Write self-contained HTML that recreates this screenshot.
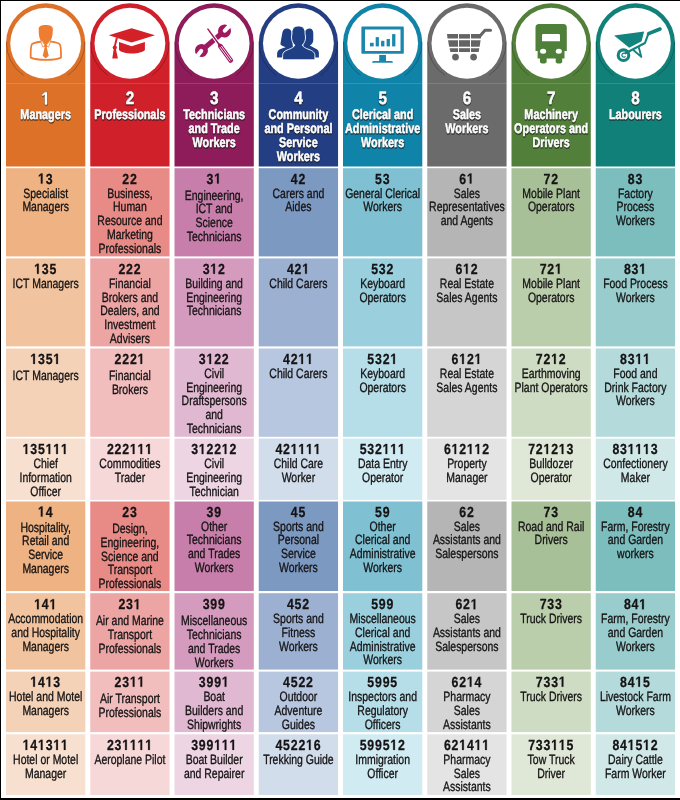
<!DOCTYPE html><html><head><meta charset="utf-8"><style>html,body{margin:0;padding:0;background:#fff;}svg{display:block;will-change:transform;}text{text-rendering:geometricPrecision;font-family:"Liberation Sans",sans-serif;text-anchor:middle;}</style></head><body>
<svg width="680" height="800" viewBox="0 0 680 800">
<rect x="0" y="0" width="680" height="800" fill="#fff"/>
<path d="M6.00,166.4 L6.00,42.95 A39.65,39.65 0 0 1 85.30,42.95 L85.30,166.4 Z" fill="#DE7128"/>
<path d="M6.42,41.58 A39.25,39.25 0 0 0 23.70,75.49" fill="none" stroke="#000" stroke-opacity="0.35" stroke-width="0.7"/>
<path d="M84.88,41.58 A39.25,39.25 0 0 1 67.60,75.49" fill="none" stroke="#000" stroke-opacity="0.35" stroke-width="0.7"/>
<circle cx="45.65" cy="43.25" r="35.4" fill="#fff"/>
<g fill="#EE7D31" stroke="#EE7D31" stroke-width="0">
<path d="M38.7,29 C38.6,26.3 41.5,25.1 45.6,25.1 C50,25.1 53.1,26.4 52.9,29.5 L52.6,34 C52.4,36.3 51.8,38.3 50.9,40.2 L49.4,41 L45.7,45.6 L42,41 L40.5,40.2 C39.6,38.3 39,36.3 38.8,34 Z"/>
<path fill="none" stroke-width="1.8" stroke-linejoin="round" d="M41.2,41.6 C37.2,42.2 33.6,42.6 32,44.2 C30.6,45.6 30.6,50 30.7,57.6 C37,60.6 54.5,60.6 61,57.6 C61.1,50 61.1,45.6 59.6,44.2 C58,42.6 54.4,42.2 50.2,41.6"/>
<path fill="#fff" stroke-width="0.75" stroke-linejoin="round" d="M40.5,40.8 L42.9,47.2 L45.1,45.3 L42,41.2 Z M50.9,40.8 L48.5,47.2 L46.3,45.3 L49.4,41.2 Z"/>
<path d="M44.6,44.8 L46.8,44.8 L47.4,46.4 L46.7,47.2 L48.7,55.8 L45.7,58.4 L42.7,55.8 L44.7,47.2 L44,46.4 Z"/>
</g>
<g transform="translate(45.85,104.70) scale(0.86,1) skewX(0.01)"><text font-size="17.8" font-weight="bold" fill="#1a1a1a" stroke="#1a1a1a" stroke-width="1.5" stroke-linejoin="round" opacity="0.62"> </text><path d="M-0.80,0.00 L-0.80,-10.17 L-3.73,-8.34 L-3.73,-10.26 L-0.66,-12.25 L1.65,-12.25 L1.65,0.00 Z" fill="#1a1a1a" stroke="#1a1a1a" stroke-width="1.5" stroke-linejoin="round" opacity="0.62"/></g>
<text transform="translate(45.85,119.70) scale(0.78,1) skewX(0.01)" font-size="13.9" font-weight="bold" fill="#1a1a1a" stroke="#1a1a1a" stroke-width="1.5" stroke-linejoin="round" opacity="0.62">Managers</text>
<g transform="translate(45.65,104.40) scale(0.86,1) skewX(0.01)"><text font-size="17.8" font-weight="bold" fill="#fff" stroke="#fff" stroke-width="0.5" stroke-linejoin="round"> </text><path d="M-0.80,0.00 L-0.80,-10.17 L-3.73,-8.34 L-3.73,-10.26 L-0.66,-12.25 L1.65,-12.25 L1.65,0.00 Z" fill="#fff" stroke="#fff" stroke-width="0.5" stroke-linejoin="round"/></g>
<text transform="translate(45.65,119.40) scale(0.78,1) skewX(0.01)" font-size="13.9" font-weight="bold" fill="#fff" stroke="#fff" stroke-width="0.5" stroke-linejoin="round">Managers</text>
<path d="M90.25,166.4 L90.25,42.95 A39.65,39.65 0 0 1 169.55,42.95 L169.55,166.4 Z" fill="#D0202A"/>
<path d="M90.67,41.58 A39.25,39.25 0 0 0 107.95,75.49" fill="none" stroke="#000" stroke-opacity="0.35" stroke-width="0.7"/>
<path d="M169.13,41.58 A39.25,39.25 0 0 1 151.85,75.49" fill="none" stroke="#000" stroke-opacity="0.35" stroke-width="0.7"/>
<circle cx="129.90" cy="43.25" r="35.4" fill="#fff"/>
<g fill="#D42027" stroke="#D42027" stroke-width="0">
<path d="M131.6,28.3 L155,35.3 L131.6,42.6 L108.8,35.3 Z"/>
<path d="M119,42 L131.6,46.2 L144.9,42 L144.9,50 C141.5,54.6 122.4,54.6 119,50 Z"/>
<path d="M115.9,37.4 L117.8,37.9 L115.7,46.4 L113.9,46.1 Z"/>
<circle cx="114.8" cy="47.6" r="2.1"/>
<path d="M113.8,48.5 L115.8,48.5 L117.9,58.6 L112.3,58.6 Z"/>
</g>
<g transform="translate(130.10,104.70) scale(0.86,1) skewX(0.01)"><text font-size="17.8" font-weight="bold" fill="#1a1a1a" stroke="#1a1a1a" stroke-width="1.5" stroke-linejoin="round" opacity="0.62">2</text></g>
<text transform="translate(130.10,119.70) scale(0.78,1) skewX(0.01)" font-size="13.9" font-weight="bold" fill="#1a1a1a" stroke="#1a1a1a" stroke-width="1.5" stroke-linejoin="round" opacity="0.62">Professionals</text>
<g transform="translate(129.90,104.40) scale(0.86,1) skewX(0.01)"><text font-size="17.8" font-weight="bold" fill="#fff" stroke="#fff" stroke-width="0.5" stroke-linejoin="round">2</text></g>
<text transform="translate(129.90,119.40) scale(0.78,1) skewX(0.01)" font-size="13.9" font-weight="bold" fill="#fff" stroke="#fff" stroke-width="0.5" stroke-linejoin="round">Professionals</text>
<path d="M174.50,166.4 L174.50,42.95 A39.65,39.65 0 0 1 253.80,42.95 L253.80,166.4 Z" fill="#8F1C5A"/>
<path d="M174.92,41.58 A39.25,39.25 0 0 0 192.20,75.49" fill="none" stroke="#000" stroke-opacity="0.35" stroke-width="0.7"/>
<path d="M253.38,41.58 A39.25,39.25 0 0 1 236.10,75.49" fill="none" stroke="#000" stroke-opacity="0.35" stroke-width="0.7"/>
<circle cx="214.15" cy="43.25" r="35.4" fill="#fff"/>
<g fill="#A0195F" stroke="#A0195F" stroke-width="0">
<g transform="translate(213,40.75) rotate(-40.3)">
 <rect x="-12" y="-2.5" width="24" height="5"/>
 <circle cx="15.1" cy="0" r="6.5"/>
 <circle cx="-15.1" cy="0" r="6.5"/>
 <g fill="#fff">
  <path transform="rotate(-6 15.1 0)" d="M23,-2.1 L15.6,-2.1 A2.1,2.1 0 0 0 15.6,2.1 L23,2.1 Z"/>
  <path transform="rotate(-12 -15.1 0)" d="M-23,-2.1 L-15.6,-2.1 A2.1,2.1 0 0 1 -15.6,2.1 L-23,2.1 Z"/>
 </g>
</g>
<g transform="translate(207.5,28.5) rotate(54)">
 <rect x="1" y="-1.7" width="18.5" height="3.4" fill="#fff"/>
 <rect x="0" y="-0.75" width="19.6" height="1.5" rx="0.75"/>
 <path d="M19,-1 L21.5,-2.4 L40,-2.4 Q41.7,-2.4 41.7,0 Q41.7,2.4 40,2.4 L21.5,2.4 L19,1 Z"/>
 <path d="M22.3,-0.95 L39.9,-0.95 M22.3,0.95 L39.9,0.95" stroke="#fff" stroke-width="0.8" fill="none"/>
</g>
</g>
<g transform="translate(214.35,104.70) scale(0.86,1) skewX(0.01)"><text font-size="17.8" font-weight="bold" fill="#1a1a1a" stroke="#1a1a1a" stroke-width="1.5" stroke-linejoin="round" opacity="0.62">3</text></g>
<text transform="translate(214.35,119.70) scale(0.78,1) skewX(0.01)" font-size="13.9" font-weight="bold" fill="#1a1a1a" stroke="#1a1a1a" stroke-width="1.5" stroke-linejoin="round" opacity="0.62">Technicians</text>
<text transform="translate(214.35,133.70) scale(0.78,1) skewX(0.01)" font-size="13.9" font-weight="bold" fill="#1a1a1a" stroke="#1a1a1a" stroke-width="1.5" stroke-linejoin="round" opacity="0.62">and Trade</text>
<text transform="translate(214.35,147.70) scale(0.78,1) skewX(0.01)" font-size="13.9" font-weight="bold" fill="#1a1a1a" stroke="#1a1a1a" stroke-width="1.5" stroke-linejoin="round" opacity="0.62">Workers</text>
<g transform="translate(214.15,104.40) scale(0.86,1) skewX(0.01)"><text font-size="17.8" font-weight="bold" fill="#fff" stroke="#fff" stroke-width="0.5" stroke-linejoin="round">3</text></g>
<text transform="translate(214.15,119.40) scale(0.78,1) skewX(0.01)" font-size="13.9" font-weight="bold" fill="#fff" stroke="#fff" stroke-width="0.5" stroke-linejoin="round">Technicians</text>
<text transform="translate(214.15,133.40) scale(0.78,1) skewX(0.01)" font-size="13.9" font-weight="bold" fill="#fff" stroke="#fff" stroke-width="0.5" stroke-linejoin="round">and Trade</text>
<text transform="translate(214.15,147.40) scale(0.78,1) skewX(0.01)" font-size="13.9" font-weight="bold" fill="#fff" stroke="#fff" stroke-width="0.5" stroke-linejoin="round">Workers</text>
<path d="M258.75,166.4 L258.75,42.95 A39.65,39.65 0 0 1 338.05,42.95 L338.05,166.4 Z" fill="#233E83"/>
<path d="M259.17,41.58 A39.25,39.25 0 0 0 276.45,75.49" fill="none" stroke="#000" stroke-opacity="0.35" stroke-width="0.7"/>
<path d="M337.63,41.58 A39.25,39.25 0 0 1 320.35,75.49" fill="none" stroke="#000" stroke-opacity="0.35" stroke-width="0.7"/>
<circle cx="298.40" cy="43.25" r="35.4" fill="#fff"/>
<g fill="#1F3F84" stroke="#1F3F84" stroke-width="0">
<path d="M291.5,31.5 C290.5,29.6 289,28.6 287,28.6 C284.5,28.6 283,30.2 282.4,32.5 L281.2,39 C280.9,41.5 280.4,43.4 280.5,44.6 C281.6,45.6 283.3,46.5 285.6,47.3 C282.5,48.2 279.5,49.2 278.3,50.6 C277.4,51.6 277.1,53 277.1,54.5 L277.1,57.6 L284,57.6 L293,48 Z"/>
<path d="M305,31.5 C306,29.6 307.5,28.6 309.5,28.6 C312,28.6 313.2,30.5 313.3,33.5 L313.3,40 C313.2,42.5 312,44.4 309.8,45.6 C311.5,46.6 314.5,47.8 316.8,49.3 C318.3,50.3 318.9,51.5 318.9,53.5 L318.9,57.6 L312,57.6 L303,48 Z"/>
<path d="M292,33.2 C291.6,28.6 294.2,26 298.5,26 C302.8,26 305.4,28.6 305,33.2 L305.5,37 C305.7,40 304.5,43 302.3,45.2 C303.1,46.9 305.5,48.3 309,49.5 C313,50.9 314.9,52.6 314.9,55.5 L314.9,59.8 L282.6,59.8 L282.6,55.5 C282.6,52.6 284.5,50.9 288.4,49.5 C291.9,48.3 294.1,46.9 294.8,45.2 C292.6,43 291.4,40 291.5,37 Z" stroke="#fff" stroke-width="0.9"/>
</g>
<g transform="translate(298.60,104.70) scale(0.86,1) skewX(0.01)"><text font-size="17.8" font-weight="bold" fill="#1a1a1a" stroke="#1a1a1a" stroke-width="1.5" stroke-linejoin="round" opacity="0.62">4</text></g>
<text transform="translate(298.60,119.70) scale(0.78,1) skewX(0.01)" font-size="13.9" font-weight="bold" fill="#1a1a1a" stroke="#1a1a1a" stroke-width="1.5" stroke-linejoin="round" opacity="0.62">Community</text>
<text transform="translate(298.60,133.70) scale(0.78,1) skewX(0.01)" font-size="13.9" font-weight="bold" fill="#1a1a1a" stroke="#1a1a1a" stroke-width="1.5" stroke-linejoin="round" opacity="0.62">and Personal</text>
<text transform="translate(298.60,147.70) scale(0.78,1) skewX(0.01)" font-size="13.9" font-weight="bold" fill="#1a1a1a" stroke="#1a1a1a" stroke-width="1.5" stroke-linejoin="round" opacity="0.62">Service</text>
<text transform="translate(298.60,161.70) scale(0.78,1) skewX(0.01)" font-size="13.9" font-weight="bold" fill="#1a1a1a" stroke="#1a1a1a" stroke-width="1.5" stroke-linejoin="round" opacity="0.62">Workers</text>
<g transform="translate(298.40,104.40) scale(0.86,1) skewX(0.01)"><text font-size="17.8" font-weight="bold" fill="#fff" stroke="#fff" stroke-width="0.5" stroke-linejoin="round">4</text></g>
<text transform="translate(298.40,119.40) scale(0.78,1) skewX(0.01)" font-size="13.9" font-weight="bold" fill="#fff" stroke="#fff" stroke-width="0.5" stroke-linejoin="round">Community</text>
<text transform="translate(298.40,133.40) scale(0.78,1) skewX(0.01)" font-size="13.9" font-weight="bold" fill="#fff" stroke="#fff" stroke-width="0.5" stroke-linejoin="round">and Personal</text>
<text transform="translate(298.40,147.40) scale(0.78,1) skewX(0.01)" font-size="13.9" font-weight="bold" fill="#fff" stroke="#fff" stroke-width="0.5" stroke-linejoin="round">Service</text>
<text transform="translate(298.40,161.40) scale(0.78,1) skewX(0.01)" font-size="13.9" font-weight="bold" fill="#fff" stroke="#fff" stroke-width="0.5" stroke-linejoin="round">Workers</text>
<path d="M343.00,166.4 L343.00,42.95 A39.65,39.65 0 0 1 422.30,42.95 L422.30,166.4 Z" fill="#0F83A8"/>
<path d="M343.42,41.58 A39.25,39.25 0 0 0 360.70,75.49" fill="none" stroke="#000" stroke-opacity="0.35" stroke-width="0.7"/>
<path d="M421.88,41.58 A39.25,39.25 0 0 1 404.60,75.49" fill="none" stroke="#000" stroke-opacity="0.35" stroke-width="0.7"/>
<circle cx="382.65" cy="43.25" r="35.4" fill="#fff"/>
<g fill="#1A87AE" stroke="#1A87AE" stroke-width="0">
<path fill-rule="evenodd" d="M362.2,26.6 L403,26.6 Q403.8,26.6 403.8,27.4 L403.8,53 Q403.8,53.8 403,53.8 L362.2,53.8 Q361.4,53.8 361.4,53 L361.4,27.4 Q361.4,26.6 362.2,26.6 Z M365,29.6 L365,51 L400.5,51 L400.5,29.6 Z"/>
<rect x="370" y="42.8" width="3.7" height="3.6"/>
<rect x="375.7" y="37.1" width="3.2" height="9.3"/>
<rect x="381.1" y="40.8" width="3.3" height="5.6"/>
<rect x="386.6" y="39" width="3.3" height="7.4"/>
<rect x="392.1" y="34.1" width="3.3" height="12.3"/>
<rect x="379.2" y="55" width="6.8" height="6.5"/>
<path d="M373.5,61 L391.5,61 Q393,61 393,62.7 L372,62.7 Q372,61 373.5,61 Z"/>
</g>
<g transform="translate(382.85,104.70) scale(0.86,1) skewX(0.01)"><text font-size="17.8" font-weight="bold" fill="#1a1a1a" stroke="#1a1a1a" stroke-width="1.5" stroke-linejoin="round" opacity="0.62">5</text></g>
<text transform="translate(382.85,119.70) scale(0.78,1) skewX(0.01)" font-size="13.9" font-weight="bold" fill="#1a1a1a" stroke="#1a1a1a" stroke-width="1.5" stroke-linejoin="round" opacity="0.62">Clerical and</text>
<text transform="translate(382.85,133.70) scale(0.78,1) skewX(0.01)" font-size="13.9" font-weight="bold" fill="#1a1a1a" stroke="#1a1a1a" stroke-width="1.5" stroke-linejoin="round" opacity="0.62">Administrative</text>
<text transform="translate(382.85,147.70) scale(0.78,1) skewX(0.01)" font-size="13.9" font-weight="bold" fill="#1a1a1a" stroke="#1a1a1a" stroke-width="1.5" stroke-linejoin="round" opacity="0.62">Workers</text>
<g transform="translate(382.65,104.40) scale(0.86,1) skewX(0.01)"><text font-size="17.8" font-weight="bold" fill="#fff" stroke="#fff" stroke-width="0.5" stroke-linejoin="round">5</text></g>
<text transform="translate(382.65,119.40) scale(0.78,1) skewX(0.01)" font-size="13.9" font-weight="bold" fill="#fff" stroke="#fff" stroke-width="0.5" stroke-linejoin="round">Clerical and</text>
<text transform="translate(382.65,133.40) scale(0.78,1) skewX(0.01)" font-size="13.9" font-weight="bold" fill="#fff" stroke="#fff" stroke-width="0.5" stroke-linejoin="round">Administrative</text>
<text transform="translate(382.65,147.40) scale(0.78,1) skewX(0.01)" font-size="13.9" font-weight="bold" fill="#fff" stroke="#fff" stroke-width="0.5" stroke-linejoin="round">Workers</text>
<path d="M427.25,166.4 L427.25,42.95 A39.65,39.65 0 0 1 506.55,42.95 L506.55,166.4 Z" fill="#6B6B6B"/>
<path d="M427.67,41.58 A39.25,39.25 0 0 0 444.95,75.49" fill="none" stroke="#000" stroke-opacity="0.35" stroke-width="0.7"/>
<path d="M506.13,41.58 A39.25,39.25 0 0 1 488.85,75.49" fill="none" stroke="#000" stroke-opacity="0.35" stroke-width="0.7"/>
<circle cx="466.90" cy="43.25" r="35.4" fill="#fff"/>
<g fill="#646464" stroke="#646464" stroke-width="0">
<path d="M447,34.1 L458,34.1 L458,38.6 L447.5,38.6 Z"/>
<path d="M459,34.1 L470,34.1 L470,38.6 L459,38.6 Z"/>
<path d="M471,34.1 L481.4,34.1 L480.8,38.6 L471,38.6 Z"/>
<path d="M448.1,40.2 L458,40.2 L458,46.7 L449.1,46.7 Z"/>
<path d="M459,40.2 L470,40.2 L470,46.7 L459,46.7 Z"/>
<path d="M471,40.2 L480.6,40.2 L479.6,46.7 L471,46.7 Z"/>
<path d="M449.6,48.2 L458,48.2 L458,52 L450.4,52 Z"/>
<path d="M459,48.2 L470,48.2 L470,52 L459,52 Z"/>
<path d="M471,48.2 L479.3,48.2 L478.6,52 L471,52 Z"/>
<path d="M479.5,36.5 L485,30.2 L490.5,30.2" fill="none" stroke-width="3" stroke-linecap="round" stroke-linejoin="round"/>
<circle cx="455.5" cy="57.1" r="3.4"/>
<circle cx="473.6" cy="57.1" r="3.4"/>
</g>
<g transform="translate(467.10,104.70) scale(0.86,1) skewX(0.01)"><text font-size="17.8" font-weight="bold" fill="#1a1a1a" stroke="#1a1a1a" stroke-width="1.5" stroke-linejoin="round" opacity="0.62">6</text></g>
<text transform="translate(467.10,119.70) scale(0.78,1) skewX(0.01)" font-size="13.9" font-weight="bold" fill="#1a1a1a" stroke="#1a1a1a" stroke-width="1.5" stroke-linejoin="round" opacity="0.62">Sales</text>
<text transform="translate(467.10,133.70) scale(0.78,1) skewX(0.01)" font-size="13.9" font-weight="bold" fill="#1a1a1a" stroke="#1a1a1a" stroke-width="1.5" stroke-linejoin="round" opacity="0.62">Workers</text>
<g transform="translate(466.90,104.40) scale(0.86,1) skewX(0.01)"><text font-size="17.8" font-weight="bold" fill="#fff" stroke="#fff" stroke-width="0.5" stroke-linejoin="round">6</text></g>
<text transform="translate(466.90,119.40) scale(0.78,1) skewX(0.01)" font-size="13.9" font-weight="bold" fill="#fff" stroke="#fff" stroke-width="0.5" stroke-linejoin="round">Sales</text>
<text transform="translate(466.90,133.40) scale(0.78,1) skewX(0.01)" font-size="13.9" font-weight="bold" fill="#fff" stroke="#fff" stroke-width="0.5" stroke-linejoin="round">Workers</text>
<path d="M511.50,166.4 L511.50,42.95 A39.65,39.65 0 0 1 590.80,42.95 L590.80,166.4 Z" fill="#52803B"/>
<path d="M511.92,41.58 A39.25,39.25 0 0 0 529.20,75.49" fill="none" stroke="#000" stroke-opacity="0.35" stroke-width="0.7"/>
<path d="M590.38,41.58 A39.25,39.25 0 0 1 573.10,75.49" fill="none" stroke="#000" stroke-opacity="0.35" stroke-width="0.7"/>
<circle cx="551.15" cy="43.25" r="35.4" fill="#fff"/>
<g fill="#4E803A" stroke="#4E803A" stroke-width="0">
<path fill-rule="evenodd" d="M539,24.1 L563.3,24.1 Q566.8,24.1 566.8,27.6 L566.8,50.9 L564.5,50.9 L564.5,58.5 L537.6,58.5 L537.6,50.9 L535.5,50.9 L535.5,27.6 Q535.5,24.1 539,24.1 Z M543.2,34.1 Q542,34.1 542,35.3 L542,41.3 L560,41.3 L560,35.3 Q560,34.1 558.8,34.1 Z M543.1,48.8 A3.1,2.5 0 1 0 543.1,53.8 A3.1,2.5 0 1 0 543.1,48.8 Z M558.8,48.8 A3.1,2.5 0 1 0 558.8,53.8 A3.1,2.5 0 1 0 558.8,48.8 Z"/>
<path d="M540,57 L546.6,57 L546.6,61.5 Q546.6,63.5 543.3,63.5 Q540,63.5 540,61.5 Z"/>
<path d="M555.7,57 L562.2,57 L562.2,61.5 Q562.2,63.5 559,63.5 Q555.7,63.5 555.7,61.5 Z"/>
</g>
<g transform="translate(551.35,104.70) scale(0.86,1) skewX(0.01)"><text font-size="17.8" font-weight="bold" fill="#1a1a1a" stroke="#1a1a1a" stroke-width="1.5" stroke-linejoin="round" opacity="0.62">7</text></g>
<text transform="translate(551.35,119.70) scale(0.78,1) skewX(0.01)" font-size="13.9" font-weight="bold" fill="#1a1a1a" stroke="#1a1a1a" stroke-width="1.5" stroke-linejoin="round" opacity="0.62">Machinery</text>
<text transform="translate(551.35,133.70) scale(0.78,1) skewX(0.01)" font-size="13.9" font-weight="bold" fill="#1a1a1a" stroke="#1a1a1a" stroke-width="1.5" stroke-linejoin="round" opacity="0.62">Operators and</text>
<text transform="translate(551.35,147.70) scale(0.78,1) skewX(0.01)" font-size="13.9" font-weight="bold" fill="#1a1a1a" stroke="#1a1a1a" stroke-width="1.5" stroke-linejoin="round" opacity="0.62">Drivers</text>
<g transform="translate(551.15,104.40) scale(0.86,1) skewX(0.01)"><text font-size="17.8" font-weight="bold" fill="#fff" stroke="#fff" stroke-width="0.5" stroke-linejoin="round">7</text></g>
<text transform="translate(551.15,119.40) scale(0.78,1) skewX(0.01)" font-size="13.9" font-weight="bold" fill="#fff" stroke="#fff" stroke-width="0.5" stroke-linejoin="round">Machinery</text>
<text transform="translate(551.15,133.40) scale(0.78,1) skewX(0.01)" font-size="13.9" font-weight="bold" fill="#fff" stroke="#fff" stroke-width="0.5" stroke-linejoin="round">Operators and</text>
<text transform="translate(551.15,147.40) scale(0.78,1) skewX(0.01)" font-size="13.9" font-weight="bold" fill="#fff" stroke="#fff" stroke-width="0.5" stroke-linejoin="round">Drivers</text>
<path d="M595.75,166.4 L595.75,42.95 A39.65,39.65 0 0 1 675.05,42.95 L675.05,166.4 Z" fill="#108079"/>
<path d="M596.17,41.58 A39.25,39.25 0 0 0 613.45,75.49" fill="none" stroke="#000" stroke-opacity="0.35" stroke-width="0.7"/>
<path d="M674.63,41.58 A39.25,39.25 0 0 1 657.35,75.49" fill="none" stroke="#000" stroke-opacity="0.35" stroke-width="0.7"/>
<circle cx="635.40" cy="43.25" r="35.4" fill="#fff"/>
<g fill="#12837E" stroke="#12837E" stroke-width="0">
<path d="M614.1,35.6 L644.1,31.5 L641.6,41.3 L629.2,47.7 Z"/>
<path d="M625,53.5 L645,43 L648.2,34.2" fill="none" stroke-width="2.1" stroke-linejoin="round"/>
<path d="M648.6,33.6 L660,29" stroke-width="3.6" stroke-linecap="round"/>
<path d="M633.3,50 L641.3,56.9 L638.8,47.2" fill="none" stroke-width="1.9" stroke-linejoin="round"/>
<circle cx="623.5" cy="55.2" r="5.3" fill="none" stroke-width="3.1"/>
<path d="M625.5,54 A2,2 0 1 0 625.5,56.4" fill="none" stroke-width="1.2"/>
</g>
<g transform="translate(635.60,104.70) scale(0.86,1) skewX(0.01)"><text font-size="17.8" font-weight="bold" fill="#1a1a1a" stroke="#1a1a1a" stroke-width="1.5" stroke-linejoin="round" opacity="0.62">8</text></g>
<text transform="translate(635.60,119.70) scale(0.78,1) skewX(0.01)" font-size="13.9" font-weight="bold" fill="#1a1a1a" stroke="#1a1a1a" stroke-width="1.5" stroke-linejoin="round" opacity="0.62">Labourers</text>
<g transform="translate(635.40,104.40) scale(0.86,1) skewX(0.01)"><text font-size="17.8" font-weight="bold" fill="#fff" stroke="#fff" stroke-width="0.5" stroke-linejoin="round">8</text></g>
<text transform="translate(635.40,119.40) scale(0.78,1) skewX(0.01)" font-size="13.9" font-weight="bold" fill="#fff" stroke="#fff" stroke-width="0.5" stroke-linejoin="round">Labourers</text>
<rect x="6" y="83" width="669" height="0.8" fill="#fff" fill-opacity="0.18"/>
<rect x="6.00" y="168.20" width="79.3" height="88.20" fill="#EEB283"/>
<g transform="translate(45.65,183.60) scale(0.845,1) skewX(0.01)"><text font-size="14.6" font-weight="bold" fill="#151314" letter-spacing="0.95" stroke="#151314" stroke-width="0.25"> 3</text><path d="M-5.66,0.00 L-5.66,-8.34 L-8.07,-6.84 L-8.07,-8.41 L-5.56,-10.04 L-3.66,-10.04 L-3.66,0.00 Z" fill="#151314" stroke="#151314" stroke-width="0.25"/></g>
<text transform="translate(45.65,197.70) scale(0.775,1) skewX(0.01)" font-size="13.5" font-weight="normal" fill="#151314" stroke="#151314" stroke-width="0.33">Specialist</text>
<text transform="translate(45.65,211.40) scale(0.775,1) skewX(0.01)" font-size="13.5" font-weight="normal" fill="#151314" stroke="#151314" stroke-width="0.33">Managers</text>
<rect x="90.25" y="168.20" width="79.3" height="88.20" fill="#E88A86"/>
<g transform="translate(129.90,183.60) scale(0.845,1) skewX(0.01)"><text font-size="14.6" font-weight="bold" fill="#151314" letter-spacing="0.95" stroke="#151314" stroke-width="0.25">22</text></g>
<text transform="translate(129.90,197.70) scale(0.775,1) skewX(0.01)" font-size="13.5" font-weight="normal" fill="#151314" stroke="#151314" stroke-width="0.33">Business,</text>
<text transform="translate(129.90,211.40) scale(0.775,1) skewX(0.01)" font-size="13.5" font-weight="normal" fill="#151314" stroke="#151314" stroke-width="0.33">Human</text>
<text transform="translate(129.90,225.10) scale(0.775,1) skewX(0.01)" font-size="13.5" font-weight="normal" fill="#151314" stroke="#151314" stroke-width="0.33">Resource and</text>
<text transform="translate(129.90,238.80) scale(0.775,1) skewX(0.01)" font-size="13.5" font-weight="normal" fill="#151314" stroke="#151314" stroke-width="0.33">Marketing</text>
<text transform="translate(129.90,252.50) scale(0.775,1) skewX(0.01)" font-size="13.5" font-weight="normal" fill="#151314" stroke="#151314" stroke-width="0.33">Professionals</text>
<rect x="174.50" y="168.20" width="79.3" height="88.20" fill="#C77EAA"/>
<g transform="translate(214.15,183.60) scale(0.845,1) skewX(0.01)"><text font-size="14.6" font-weight="bold" fill="#151314" letter-spacing="0.95" stroke="#151314" stroke-width="0.25">3 </text><path d="M3.41,0.00 L3.41,-8.34 L1.00,-6.84 L1.00,-8.41 L3.51,-10.04 L5.41,-10.04 L5.41,0.00 Z" fill="#151314" stroke="#151314" stroke-width="0.25"/></g>
<text transform="translate(214.15,199.70) scale(0.775,1) skewX(0.01)" font-size="13.5" font-weight="normal" fill="#151314" stroke="#151314" stroke-width="0.33">Engineering,</text>
<text transform="translate(214.15,213.30) scale(0.775,1) skewX(0.01)" font-size="13.5" font-weight="normal" fill="#151314" stroke="#151314" stroke-width="0.33">ICT and</text>
<text transform="translate(214.15,226.90) scale(0.775,1) skewX(0.01)" font-size="13.5" font-weight="normal" fill="#151314" stroke="#151314" stroke-width="0.33">Science</text>
<text transform="translate(214.15,240.50) scale(0.775,1) skewX(0.01)" font-size="13.5" font-weight="normal" fill="#151314" stroke="#151314" stroke-width="0.33">Technicians</text>
<rect x="258.75" y="168.20" width="79.3" height="88.20" fill="#7C99C1"/>
<g transform="translate(298.40,183.60) scale(0.845,1) skewX(0.01)"><text font-size="14.6" font-weight="bold" fill="#151314" letter-spacing="0.95" stroke="#151314" stroke-width="0.25">42</text></g>
<text transform="translate(298.40,197.70) scale(0.775,1) skewX(0.01)" font-size="13.5" font-weight="normal" fill="#151314" stroke="#151314" stroke-width="0.33">Carers and</text>
<text transform="translate(298.40,211.40) scale(0.775,1) skewX(0.01)" font-size="13.5" font-weight="normal" fill="#151314" stroke="#151314" stroke-width="0.33">Aides</text>
<rect x="343.00" y="168.20" width="79.3" height="88.20" fill="#7FC1D3"/>
<g transform="translate(382.65,183.60) scale(0.845,1) skewX(0.01)"><text font-size="14.6" font-weight="bold" fill="#151314" letter-spacing="0.95" stroke="#151314" stroke-width="0.25">53</text></g>
<text transform="translate(382.65,197.70) scale(0.775,1) skewX(0.01)" font-size="13.5" font-weight="normal" fill="#151314" stroke="#151314" stroke-width="0.33">General Clerical</text>
<text transform="translate(382.65,211.40) scale(0.775,1) skewX(0.01)" font-size="13.5" font-weight="normal" fill="#151314" stroke="#151314" stroke-width="0.33">Workers</text>
<rect x="427.25" y="168.20" width="79.3" height="88.20" fill="#B5B5B5"/>
<g transform="translate(466.90,183.60) scale(0.845,1) skewX(0.01)"><text font-size="14.6" font-weight="bold" fill="#151314" letter-spacing="0.95" stroke="#151314" stroke-width="0.25">6 </text><path d="M3.41,0.00 L3.41,-8.34 L1.00,-6.84 L1.00,-8.41 L3.51,-10.04 L5.41,-10.04 L5.41,0.00 Z" fill="#151314" stroke="#151314" stroke-width="0.25"/></g>
<text transform="translate(466.90,197.70) scale(0.775,1) skewX(0.01)" font-size="13.5" font-weight="normal" fill="#151314" stroke="#151314" stroke-width="0.33">Sales</text>
<text transform="translate(466.90,211.40) scale(0.775,1) skewX(0.01)" font-size="13.5" font-weight="normal" fill="#151314" stroke="#151314" stroke-width="0.33">Representatives</text>
<text transform="translate(466.90,225.10) scale(0.775,1) skewX(0.01)" font-size="13.5" font-weight="normal" fill="#151314" stroke="#151314" stroke-width="0.33">and Agents</text>
<rect x="511.50" y="168.20" width="79.3" height="88.20" fill="#A8C098"/>
<g transform="translate(551.15,183.60) scale(0.845,1) skewX(0.01)"><text font-size="14.6" font-weight="bold" fill="#151314" letter-spacing="0.95" stroke="#151314" stroke-width="0.25">72</text></g>
<text transform="translate(551.15,197.70) scale(0.775,1) skewX(0.01)" font-size="13.5" font-weight="normal" fill="#151314" stroke="#151314" stroke-width="0.33">Mobile Plant</text>
<text transform="translate(551.15,211.40) scale(0.775,1) skewX(0.01)" font-size="13.5" font-weight="normal" fill="#151314" stroke="#151314" stroke-width="0.33">Operators</text>
<rect x="595.75" y="168.20" width="79.3" height="88.20" fill="#7CBEBE"/>
<g transform="translate(635.40,183.60) scale(0.845,1) skewX(0.01)"><text font-size="14.6" font-weight="bold" fill="#151314" letter-spacing="0.95" stroke="#151314" stroke-width="0.25">83</text></g>
<text transform="translate(635.40,197.70) scale(0.775,1) skewX(0.01)" font-size="13.5" font-weight="normal" fill="#151314" stroke="#151314" stroke-width="0.33">Factory</text>
<text transform="translate(635.40,211.40) scale(0.775,1) skewX(0.01)" font-size="13.5" font-weight="normal" fill="#151314" stroke="#151314" stroke-width="0.33">Process</text>
<text transform="translate(635.40,225.10) scale(0.775,1) skewX(0.01)" font-size="13.5" font-weight="normal" fill="#151314" stroke="#151314" stroke-width="0.33">Workers</text>
<rect x="6.00" y="258.40" width="79.3" height="88.00" fill="#F1C49F"/>
<g transform="translate(45.65,273.80) scale(0.845,1) skewX(0.01)"><text font-size="14.6" font-weight="bold" fill="#151314" letter-spacing="0.95" stroke="#151314" stroke-width="0.25"> 35</text><path d="M-10.20,0.00 L-10.20,-8.34 L-12.61,-6.84 L-12.61,-8.41 L-10.09,-10.04 L-8.19,-10.04 L-8.19,0.00 Z" fill="#151314" stroke="#151314" stroke-width="0.25"/></g>
<text transform="translate(45.65,287.90) scale(0.775,1) skewX(0.01)" font-size="13.5" font-weight="normal" fill="#151314" stroke="#151314" stroke-width="0.33">ICT Managers</text>
<rect x="90.25" y="258.40" width="79.3" height="88.00" fill="#EDA5A4"/>
<g transform="translate(129.90,273.80) scale(0.845,1) skewX(0.01)"><text font-size="14.6" font-weight="bold" fill="#151314" letter-spacing="0.95" stroke="#151314" stroke-width="0.25">222</text></g>
<text transform="translate(129.90,287.90) scale(0.775,1) skewX(0.01)" font-size="13.5" font-weight="normal" fill="#151314" stroke="#151314" stroke-width="0.33">Financial</text>
<text transform="translate(129.90,301.60) scale(0.775,1) skewX(0.01)" font-size="13.5" font-weight="normal" fill="#151314" stroke="#151314" stroke-width="0.33">Brokers and</text>
<text transform="translate(129.90,315.30) scale(0.775,1) skewX(0.01)" font-size="13.5" font-weight="normal" fill="#151314" stroke="#151314" stroke-width="0.33">Dealers, and</text>
<text transform="translate(129.90,329.00) scale(0.775,1) skewX(0.01)" font-size="13.5" font-weight="normal" fill="#151314" stroke="#151314" stroke-width="0.33">Investment</text>
<text transform="translate(129.90,342.70) scale(0.775,1) skewX(0.01)" font-size="13.5" font-weight="normal" fill="#151314" stroke="#151314" stroke-width="0.33">Advisers</text>
<rect x="174.50" y="258.40" width="79.3" height="88.00" fill="#D59BBE"/>
<g transform="translate(214.15,273.80) scale(0.845,1) skewX(0.01)"><text font-size="14.6" font-weight="bold" fill="#151314" letter-spacing="0.95" stroke="#151314" stroke-width="0.25">3 2</text><path d="M-1.13,0.00 L-1.13,-8.34 L-3.54,-6.84 L-3.54,-8.41 L-1.02,-10.04 L0.88,-10.04 L0.88,0.00 Z" fill="#151314" stroke="#151314" stroke-width="0.25"/></g>
<text transform="translate(214.15,287.90) scale(0.775,1) skewX(0.01)" font-size="13.5" font-weight="normal" fill="#151314" stroke="#151314" stroke-width="0.33">Building and</text>
<text transform="translate(214.15,301.60) scale(0.775,1) skewX(0.01)" font-size="13.5" font-weight="normal" fill="#151314" stroke="#151314" stroke-width="0.33">Engineering</text>
<text transform="translate(214.15,315.30) scale(0.775,1) skewX(0.01)" font-size="13.5" font-weight="normal" fill="#151314" stroke="#151314" stroke-width="0.33">Technicians</text>
<rect x="258.75" y="258.40" width="79.3" height="88.00" fill="#9CB1D1"/>
<g transform="translate(298.40,273.80) scale(0.845,1) skewX(0.01)"><text font-size="14.6" font-weight="bold" fill="#151314" letter-spacing="0.95" stroke="#151314" stroke-width="0.25">42 </text><path d="M7.94,0.00 L7.94,-8.34 L5.53,-6.84 L5.53,-8.41 L8.05,-10.04 L9.95,-10.04 L9.95,0.00 Z" fill="#151314" stroke="#151314" stroke-width="0.25"/></g>
<text transform="translate(298.40,287.90) scale(0.775,1) skewX(0.01)" font-size="13.5" font-weight="normal" fill="#151314" stroke="#151314" stroke-width="0.33">Child Carers</text>
<rect x="343.00" y="258.40" width="79.3" height="88.00" fill="#9AD0DE"/>
<g transform="translate(382.65,273.80) scale(0.845,1) skewX(0.01)"><text font-size="14.6" font-weight="bold" fill="#151314" letter-spacing="0.95" stroke="#151314" stroke-width="0.25">532</text></g>
<text transform="translate(382.65,287.90) scale(0.775,1) skewX(0.01)" font-size="13.5" font-weight="normal" fill="#151314" stroke="#151314" stroke-width="0.33">Keyboard</text>
<text transform="translate(382.65,301.60) scale(0.775,1) skewX(0.01)" font-size="13.5" font-weight="normal" fill="#151314" stroke="#151314" stroke-width="0.33">Operators</text>
<rect x="427.25" y="258.40" width="79.3" height="88.00" fill="#C6C6C6"/>
<g transform="translate(466.90,273.80) scale(0.845,1) skewX(0.01)"><text font-size="14.6" font-weight="bold" fill="#151314" letter-spacing="0.95" stroke="#151314" stroke-width="0.25">6 2</text><path d="M-1.13,0.00 L-1.13,-8.34 L-3.54,-6.84 L-3.54,-8.41 L-1.02,-10.04 L0.88,-10.04 L0.88,0.00 Z" fill="#151314" stroke="#151314" stroke-width="0.25"/></g>
<text transform="translate(466.90,287.90) scale(0.775,1) skewX(0.01)" font-size="13.5" font-weight="normal" fill="#151314" stroke="#151314" stroke-width="0.33">Real Estate</text>
<text transform="translate(466.90,301.60) scale(0.775,1) skewX(0.01)" font-size="13.5" font-weight="normal" fill="#151314" stroke="#151314" stroke-width="0.33">Sales Agents</text>
<rect x="511.50" y="258.40" width="79.3" height="88.00" fill="#BBCEAC"/>
<g transform="translate(551.15,273.80) scale(0.845,1) skewX(0.01)"><text font-size="14.6" font-weight="bold" fill="#151314" letter-spacing="0.95" stroke="#151314" stroke-width="0.25">72 </text><path d="M7.94,0.00 L7.94,-8.34 L5.53,-6.84 L5.53,-8.41 L8.05,-10.04 L9.95,-10.04 L9.95,0.00 Z" fill="#151314" stroke="#151314" stroke-width="0.25"/></g>
<text transform="translate(551.15,287.90) scale(0.775,1) skewX(0.01)" font-size="13.5" font-weight="normal" fill="#151314" stroke="#151314" stroke-width="0.33">Mobile Plant</text>
<text transform="translate(551.15,301.60) scale(0.775,1) skewX(0.01)" font-size="13.5" font-weight="normal" fill="#151314" stroke="#151314" stroke-width="0.33">Operators</text>
<rect x="595.75" y="258.40" width="79.3" height="88.00" fill="#99CCCC"/>
<g transform="translate(635.40,273.80) scale(0.845,1) skewX(0.01)"><text font-size="14.6" font-weight="bold" fill="#151314" letter-spacing="0.95" stroke="#151314" stroke-width="0.25">83 </text><path d="M7.94,0.00 L7.94,-8.34 L5.53,-6.84 L5.53,-8.41 L8.05,-10.04 L9.95,-10.04 L9.95,0.00 Z" fill="#151314" stroke="#151314" stroke-width="0.25"/></g>
<text transform="translate(635.40,287.90) scale(0.775,1) skewX(0.01)" font-size="13.5" font-weight="normal" fill="#151314" stroke="#151314" stroke-width="0.33">Food Process</text>
<text transform="translate(635.40,301.60) scale(0.775,1) skewX(0.01)" font-size="13.5" font-weight="normal" fill="#151314" stroke="#151314" stroke-width="0.33">Workers</text>
<rect x="6.00" y="348.50" width="79.3" height="88.30" fill="#F3D2B8"/>
<g transform="translate(45.65,363.90) scale(0.845,1) skewX(0.01)"><text font-size="14.6" font-weight="bold" fill="#151314" letter-spacing="0.95" stroke="#151314" stroke-width="0.25"> 35 </text><path d="M-14.73,0.00 L-14.73,-8.34 L-17.14,-6.84 L-17.14,-8.41 L-14.63,-10.04 L-12.73,-10.04 L-12.73,0.00 Z" fill="#151314" stroke="#151314" stroke-width="0.25"/><path d="M12.48,0.00 L12.48,-8.34 L10.07,-6.84 L10.07,-8.41 L12.58,-10.04 L14.48,-10.04 L14.48,0.00 Z" fill="#151314" stroke="#151314" stroke-width="0.25"/></g>
<text transform="translate(45.65,379.80) scale(0.775,1) skewX(0.01)" font-size="13.5" font-weight="normal" fill="#151314" stroke="#151314" stroke-width="0.33">ICT Managers</text>
<rect x="90.25" y="348.50" width="79.3" height="88.30" fill="#F2BDBD"/>
<g transform="translate(129.90,363.90) scale(0.845,1) skewX(0.01)"><text font-size="14.6" font-weight="bold" fill="#151314" letter-spacing="0.95" stroke="#151314" stroke-width="0.25">222 </text><path d="M12.48,0.00 L12.48,-8.34 L10.07,-6.84 L10.07,-8.41 L12.58,-10.04 L14.48,-10.04 L14.48,0.00 Z" fill="#151314" stroke="#151314" stroke-width="0.25"/></g>
<text transform="translate(129.90,379.80) scale(0.775,1) skewX(0.01)" font-size="13.5" font-weight="normal" fill="#151314" stroke="#151314" stroke-width="0.33">Financial</text>
<text transform="translate(129.90,393.70) scale(0.775,1) skewX(0.01)" font-size="13.5" font-weight="normal" fill="#151314" stroke="#151314" stroke-width="0.33">Brokers</text>
<rect x="174.50" y="348.50" width="79.3" height="88.30" fill="#E1B8D1"/>
<g transform="translate(214.15,363.90) scale(0.845,1) skewX(0.01)"><text font-size="14.6" font-weight="bold" fill="#151314" letter-spacing="0.95" stroke="#151314" stroke-width="0.25">3 22</text><path d="M-5.66,0.00 L-5.66,-8.34 L-8.07,-6.84 L-8.07,-8.41 L-5.56,-10.04 L-3.66,-10.04 L-3.66,0.00 Z" fill="#151314" stroke="#151314" stroke-width="0.25"/></g>
<text transform="translate(214.15,378.30) scale(0.775,1) skewX(0.01)" font-size="13.5" font-weight="normal" fill="#151314" stroke="#151314" stroke-width="0.33">Civil</text>
<text transform="translate(214.15,391.85) scale(0.775,1) skewX(0.01)" font-size="13.5" font-weight="normal" fill="#151314" stroke="#151314" stroke-width="0.33">Engineering</text>
<text transform="translate(214.15,405.40) scale(0.775,1) skewX(0.01)" font-size="13.5" font-weight="normal" fill="#151314" stroke="#151314" stroke-width="0.33">Draftspersons</text>
<text transform="translate(214.15,418.95) scale(0.775,1) skewX(0.01)" font-size="13.5" font-weight="normal" fill="#151314" stroke="#151314" stroke-width="0.33">and</text>
<text transform="translate(214.15,432.50) scale(0.775,1) skewX(0.01)" font-size="13.5" font-weight="normal" fill="#151314" stroke="#151314" stroke-width="0.33">Technicians</text>
<rect x="258.75" y="348.50" width="79.3" height="88.30" fill="#B7C7DF"/>
<g transform="translate(298.40,363.90) scale(0.845,1) skewX(0.01)"><text font-size="14.6" font-weight="bold" fill="#151314" letter-spacing="0.95" stroke="#151314" stroke-width="0.25">42  </text><path d="M3.41,0.00 L3.41,-8.34 L1.00,-6.84 L1.00,-8.41 L3.51,-10.04 L5.41,-10.04 L5.41,0.00 Z" fill="#151314" stroke="#151314" stroke-width="0.25"/><path d="M12.48,0.00 L12.48,-8.34 L10.07,-6.84 L10.07,-8.41 L12.58,-10.04 L14.48,-10.04 L14.48,0.00 Z" fill="#151314" stroke="#151314" stroke-width="0.25"/></g>
<text transform="translate(298.40,378.00) scale(0.775,1) skewX(0.01)" font-size="13.5" font-weight="normal" fill="#151314" stroke="#151314" stroke-width="0.33">Child Carers</text>
<rect x="343.00" y="348.50" width="79.3" height="88.30" fill="#B6DEE9"/>
<g transform="translate(382.65,363.90) scale(0.845,1) skewX(0.01)"><text font-size="14.6" font-weight="bold" fill="#151314" letter-spacing="0.95" stroke="#151314" stroke-width="0.25">532 </text><path d="M12.48,0.00 L12.48,-8.34 L10.07,-6.84 L10.07,-8.41 L12.58,-10.04 L14.48,-10.04 L14.48,0.00 Z" fill="#151314" stroke="#151314" stroke-width="0.25"/></g>
<text transform="translate(382.65,378.00) scale(0.775,1) skewX(0.01)" font-size="13.5" font-weight="normal" fill="#151314" stroke="#151314" stroke-width="0.33">Keyboard</text>
<text transform="translate(382.65,391.70) scale(0.775,1) skewX(0.01)" font-size="13.5" font-weight="normal" fill="#151314" stroke="#151314" stroke-width="0.33">Operators</text>
<rect x="427.25" y="348.50" width="79.3" height="88.30" fill="#D5D5D5"/>
<g transform="translate(466.90,363.90) scale(0.845,1) skewX(0.01)"><text font-size="14.6" font-weight="bold" fill="#151314" letter-spacing="0.95" stroke="#151314" stroke-width="0.25">6 2 </text><path d="M-5.66,0.00 L-5.66,-8.34 L-8.07,-6.84 L-8.07,-8.41 L-5.56,-10.04 L-3.66,-10.04 L-3.66,0.00 Z" fill="#151314" stroke="#151314" stroke-width="0.25"/><path d="M12.48,0.00 L12.48,-8.34 L10.07,-6.84 L10.07,-8.41 L12.58,-10.04 L14.48,-10.04 L14.48,0.00 Z" fill="#151314" stroke="#151314" stroke-width="0.25"/></g>
<text transform="translate(466.90,378.00) scale(0.775,1) skewX(0.01)" font-size="13.5" font-weight="normal" fill="#151314" stroke="#151314" stroke-width="0.33">Real Estate</text>
<text transform="translate(466.90,391.70) scale(0.775,1) skewX(0.01)" font-size="13.5" font-weight="normal" fill="#151314" stroke="#151314" stroke-width="0.33">Sales Agents</text>
<rect x="511.50" y="348.50" width="79.3" height="88.30" fill="#CDDCC2"/>
<g transform="translate(551.15,363.90) scale(0.845,1) skewX(0.01)"><text font-size="14.6" font-weight="bold" fill="#151314" letter-spacing="0.95" stroke="#151314" stroke-width="0.25">72 2</text><path d="M3.41,0.00 L3.41,-8.34 L1.00,-6.84 L1.00,-8.41 L3.51,-10.04 L5.41,-10.04 L5.41,0.00 Z" fill="#151314" stroke="#151314" stroke-width="0.25"/></g>
<text transform="translate(551.15,378.00) scale(0.775,1) skewX(0.01)" font-size="13.5" font-weight="normal" fill="#151314" stroke="#151314" stroke-width="0.33">Earthmoving</text>
<text transform="translate(551.15,391.70) scale(0.775,1) skewX(0.01)" font-size="13.5" font-weight="normal" fill="#151314" stroke="#151314" stroke-width="0.33">Plant Operators</text>
<rect x="595.75" y="348.50" width="79.3" height="88.30" fill="#B4DADB"/>
<g transform="translate(635.40,363.90) scale(0.845,1) skewX(0.01)"><text font-size="14.6" font-weight="bold" fill="#151314" letter-spacing="0.95" stroke="#151314" stroke-width="0.25">83  </text><path d="M3.41,0.00 L3.41,-8.34 L1.00,-6.84 L1.00,-8.41 L3.51,-10.04 L5.41,-10.04 L5.41,0.00 Z" fill="#151314" stroke="#151314" stroke-width="0.25"/><path d="M12.48,0.00 L12.48,-8.34 L10.07,-6.84 L10.07,-8.41 L12.58,-10.04 L14.48,-10.04 L14.48,0.00 Z" fill="#151314" stroke="#151314" stroke-width="0.25"/></g>
<text transform="translate(635.40,378.00) scale(0.775,1) skewX(0.01)" font-size="13.5" font-weight="normal" fill="#151314" stroke="#151314" stroke-width="0.33">Food and</text>
<text transform="translate(635.40,391.70) scale(0.775,1) skewX(0.01)" font-size="13.5" font-weight="normal" fill="#151314" stroke="#151314" stroke-width="0.33">Drink Factory</text>
<text transform="translate(635.40,405.40) scale(0.775,1) skewX(0.01)" font-size="13.5" font-weight="normal" fill="#151314" stroke="#151314" stroke-width="0.33">Workers</text>
<rect x="6.00" y="438.60" width="79.3" height="61.30" fill="#F7E0CF"/>
<g transform="translate(45.65,454.00) scale(0.845,1) skewX(0.01)"><text font-size="14.6" font-weight="bold" fill="#151314" letter-spacing="0.95" stroke="#151314" stroke-width="0.25"> 35   </text><path d="M-23.80,0.00 L-23.80,-8.34 L-26.21,-6.84 L-26.21,-8.41 L-23.69,-10.04 L-21.80,-10.04 L-21.80,0.00 Z" fill="#151314" stroke="#151314" stroke-width="0.25"/><path d="M3.41,0.00 L3.41,-8.34 L1.00,-6.84 L1.00,-8.41 L3.51,-10.04 L5.41,-10.04 L5.41,0.00 Z" fill="#151314" stroke="#151314" stroke-width="0.25"/><path d="M12.48,0.00 L12.48,-8.34 L10.07,-6.84 L10.07,-8.41 L12.58,-10.04 L14.48,-10.04 L14.48,0.00 Z" fill="#151314" stroke="#151314" stroke-width="0.25"/><path d="M21.55,0.00 L21.55,-8.34 L19.14,-6.84 L19.14,-8.41 L21.65,-10.04 L23.55,-10.04 L23.55,0.00 Z" fill="#151314" stroke="#151314" stroke-width="0.25"/></g>
<text transform="translate(45.65,468.10) scale(0.775,1) skewX(0.01)" font-size="13.5" font-weight="normal" fill="#151314" stroke="#151314" stroke-width="0.33">Chief</text>
<text transform="translate(45.65,481.80) scale(0.775,1) skewX(0.01)" font-size="13.5" font-weight="normal" fill="#151314" stroke="#151314" stroke-width="0.33">Information</text>
<text transform="translate(45.65,495.50) scale(0.775,1) skewX(0.01)" font-size="13.5" font-weight="normal" fill="#151314" stroke="#151314" stroke-width="0.33">Officer</text>
<rect x="90.25" y="438.60" width="79.3" height="61.30" fill="#F7D8D8"/>
<g transform="translate(129.90,454.00) scale(0.845,1) skewX(0.01)"><text font-size="14.6" font-weight="bold" fill="#151314" letter-spacing="0.95" stroke="#151314" stroke-width="0.25">222   </text><path d="M3.41,0.00 L3.41,-8.34 L1.00,-6.84 L1.00,-8.41 L3.51,-10.04 L5.41,-10.04 L5.41,0.00 Z" fill="#151314" stroke="#151314" stroke-width="0.25"/><path d="M12.48,0.00 L12.48,-8.34 L10.07,-6.84 L10.07,-8.41 L12.58,-10.04 L14.48,-10.04 L14.48,0.00 Z" fill="#151314" stroke="#151314" stroke-width="0.25"/><path d="M21.55,0.00 L21.55,-8.34 L19.14,-6.84 L19.14,-8.41 L21.65,-10.04 L23.55,-10.04 L23.55,0.00 Z" fill="#151314" stroke="#151314" stroke-width="0.25"/></g>
<text transform="translate(129.90,468.10) scale(0.775,1) skewX(0.01)" font-size="13.5" font-weight="normal" fill="#151314" stroke="#151314" stroke-width="0.33">Commodities</text>
<text transform="translate(129.90,481.80) scale(0.775,1) skewX(0.01)" font-size="13.5" font-weight="normal" fill="#151314" stroke="#151314" stroke-width="0.33">Trader</text>
<rect x="174.50" y="438.60" width="79.3" height="61.30" fill="#EDD5E3"/>
<g transform="translate(214.15,454.00) scale(0.845,1) skewX(0.01)"><text font-size="14.6" font-weight="bold" fill="#151314" letter-spacing="0.95" stroke="#151314" stroke-width="0.25">3 22 2</text><path d="M-14.73,0.00 L-14.73,-8.34 L-17.14,-6.84 L-17.14,-8.41 L-14.63,-10.04 L-12.73,-10.04 L-12.73,0.00 Z" fill="#151314" stroke="#151314" stroke-width="0.25"/><path d="M12.48,0.00 L12.48,-8.34 L10.07,-6.84 L10.07,-8.41 L12.58,-10.04 L14.48,-10.04 L14.48,0.00 Z" fill="#151314" stroke="#151314" stroke-width="0.25"/></g>
<text transform="translate(214.15,468.10) scale(0.775,1) skewX(0.01)" font-size="13.5" font-weight="normal" fill="#151314" stroke="#151314" stroke-width="0.33">Civil</text>
<text transform="translate(214.15,481.80) scale(0.775,1) skewX(0.01)" font-size="13.5" font-weight="normal" fill="#151314" stroke="#151314" stroke-width="0.33">Engineering</text>
<text transform="translate(214.15,495.50) scale(0.775,1) skewX(0.01)" font-size="13.5" font-weight="normal" fill="#151314" stroke="#151314" stroke-width="0.33">Technician</text>
<rect x="258.75" y="438.60" width="79.3" height="61.30" fill="#D2DDEC"/>
<g transform="translate(298.40,454.00) scale(0.845,1) skewX(0.01)"><text font-size="14.6" font-weight="bold" fill="#151314" letter-spacing="0.95" stroke="#151314" stroke-width="0.25">42    </text><path d="M-5.66,0.00 L-5.66,-8.34 L-8.07,-6.84 L-8.07,-8.41 L-5.56,-10.04 L-3.66,-10.04 L-3.66,0.00 Z" fill="#151314" stroke="#151314" stroke-width="0.25"/><path d="M3.41,0.00 L3.41,-8.34 L1.00,-6.84 L1.00,-8.41 L3.51,-10.04 L5.41,-10.04 L5.41,0.00 Z" fill="#151314" stroke="#151314" stroke-width="0.25"/><path d="M12.48,0.00 L12.48,-8.34 L10.07,-6.84 L10.07,-8.41 L12.58,-10.04 L14.48,-10.04 L14.48,0.00 Z" fill="#151314" stroke="#151314" stroke-width="0.25"/><path d="M21.55,0.00 L21.55,-8.34 L19.14,-6.84 L19.14,-8.41 L21.65,-10.04 L23.55,-10.04 L23.55,0.00 Z" fill="#151314" stroke="#151314" stroke-width="0.25"/></g>
<text transform="translate(298.40,468.10) scale(0.775,1) skewX(0.01)" font-size="13.5" font-weight="normal" fill="#151314" stroke="#151314" stroke-width="0.33">Child Care</text>
<text transform="translate(298.40,481.80) scale(0.775,1) skewX(0.01)" font-size="13.5" font-weight="normal" fill="#151314" stroke="#151314" stroke-width="0.33">Worker</text>
<rect x="343.00" y="438.60" width="79.3" height="61.30" fill="#D1EBF2"/>
<g transform="translate(382.65,454.00) scale(0.845,1) skewX(0.01)"><text font-size="14.6" font-weight="bold" fill="#151314" letter-spacing="0.95" stroke="#151314" stroke-width="0.25">532   </text><path d="M3.41,0.00 L3.41,-8.34 L1.00,-6.84 L1.00,-8.41 L3.51,-10.04 L5.41,-10.04 L5.41,0.00 Z" fill="#151314" stroke="#151314" stroke-width="0.25"/><path d="M12.48,0.00 L12.48,-8.34 L10.07,-6.84 L10.07,-8.41 L12.58,-10.04 L14.48,-10.04 L14.48,0.00 Z" fill="#151314" stroke="#151314" stroke-width="0.25"/><path d="M21.55,0.00 L21.55,-8.34 L19.14,-6.84 L19.14,-8.41 L21.65,-10.04 L23.55,-10.04 L23.55,0.00 Z" fill="#151314" stroke="#151314" stroke-width="0.25"/></g>
<text transform="translate(382.65,468.10) scale(0.775,1) skewX(0.01)" font-size="13.5" font-weight="normal" fill="#151314" stroke="#151314" stroke-width="0.33">Data Entry</text>
<text transform="translate(382.65,481.80) scale(0.775,1) skewX(0.01)" font-size="13.5" font-weight="normal" fill="#151314" stroke="#151314" stroke-width="0.33">Operator</text>
<rect x="427.25" y="438.60" width="79.3" height="61.30" fill="#E4E4E4"/>
<g transform="translate(466.90,454.00) scale(0.845,1) skewX(0.01)"><text font-size="14.6" font-weight="bold" fill="#151314" letter-spacing="0.95" stroke="#151314" stroke-width="0.25">6 2  2</text><path d="M-14.73,0.00 L-14.73,-8.34 L-17.14,-6.84 L-17.14,-8.41 L-14.63,-10.04 L-12.73,-10.04 L-12.73,0.00 Z" fill="#151314" stroke="#151314" stroke-width="0.25"/><path d="M3.41,0.00 L3.41,-8.34 L1.00,-6.84 L1.00,-8.41 L3.51,-10.04 L5.41,-10.04 L5.41,0.00 Z" fill="#151314" stroke="#151314" stroke-width="0.25"/><path d="M12.48,0.00 L12.48,-8.34 L10.07,-6.84 L10.07,-8.41 L12.58,-10.04 L14.48,-10.04 L14.48,0.00 Z" fill="#151314" stroke="#151314" stroke-width="0.25"/></g>
<text transform="translate(466.90,468.10) scale(0.775,1) skewX(0.01)" font-size="13.5" font-weight="normal" fill="#151314" stroke="#151314" stroke-width="0.33">Property</text>
<text transform="translate(466.90,481.80) scale(0.775,1) skewX(0.01)" font-size="13.5" font-weight="normal" fill="#151314" stroke="#151314" stroke-width="0.33">Manager</text>
<rect x="511.50" y="438.60" width="79.3" height="61.30" fill="#DFE8D7"/>
<g transform="translate(551.15,454.00) scale(0.845,1) skewX(0.01)"><text font-size="14.6" font-weight="bold" fill="#151314" letter-spacing="0.95" stroke="#151314" stroke-width="0.25">72 2 3</text><path d="M-5.66,0.00 L-5.66,-8.34 L-8.07,-6.84 L-8.07,-8.41 L-5.56,-10.04 L-3.66,-10.04 L-3.66,0.00 Z" fill="#151314" stroke="#151314" stroke-width="0.25"/><path d="M12.48,0.00 L12.48,-8.34 L10.07,-6.84 L10.07,-8.41 L12.58,-10.04 L14.48,-10.04 L14.48,0.00 Z" fill="#151314" stroke="#151314" stroke-width="0.25"/></g>
<text transform="translate(551.15,468.10) scale(0.775,1) skewX(0.01)" font-size="13.5" font-weight="normal" fill="#151314" stroke="#151314" stroke-width="0.33">Bulldozer</text>
<text transform="translate(551.15,481.80) scale(0.775,1) skewX(0.01)" font-size="13.5" font-weight="normal" fill="#151314" stroke="#151314" stroke-width="0.33">Operator</text>
<rect x="595.75" y="438.60" width="79.3" height="61.30" fill="#D0E8E8"/>
<g transform="translate(635.40,454.00) scale(0.845,1) skewX(0.01)"><text font-size="14.6" font-weight="bold" fill="#151314" letter-spacing="0.95" stroke="#151314" stroke-width="0.25">83   3</text><path d="M-5.66,0.00 L-5.66,-8.34 L-8.07,-6.84 L-8.07,-8.41 L-5.56,-10.04 L-3.66,-10.04 L-3.66,0.00 Z" fill="#151314" stroke="#151314" stroke-width="0.25"/><path d="M3.41,0.00 L3.41,-8.34 L1.00,-6.84 L1.00,-8.41 L3.51,-10.04 L5.41,-10.04 L5.41,0.00 Z" fill="#151314" stroke="#151314" stroke-width="0.25"/><path d="M12.48,0.00 L12.48,-8.34 L10.07,-6.84 L10.07,-8.41 L12.58,-10.04 L14.48,-10.04 L14.48,0.00 Z" fill="#151314" stroke="#151314" stroke-width="0.25"/></g>
<text transform="translate(635.40,468.10) scale(0.775,1) skewX(0.01)" font-size="13.5" font-weight="normal" fill="#151314" stroke="#151314" stroke-width="0.33">Confectionery</text>
<text transform="translate(635.40,481.80) scale(0.775,1) skewX(0.01)" font-size="13.5" font-weight="normal" fill="#151314" stroke="#151314" stroke-width="0.33">Maker</text>
<rect x="6.00" y="501.50" width="79.3" height="89.50" fill="#EEB283"/>
<g transform="translate(45.65,516.60) scale(0.845,1) skewX(0.01)"><text font-size="14.6" font-weight="bold" fill="#151314" letter-spacing="0.95" stroke="#151314" stroke-width="0.25"> 4</text><path d="M-5.66,0.00 L-5.66,-8.34 L-8.07,-6.84 L-8.07,-8.41 L-5.56,-10.04 L-3.66,-10.04 L-3.66,0.00 Z" fill="#151314" stroke="#151314" stroke-width="0.25"/></g>
<text transform="translate(45.65,531.60) scale(0.775,1) skewX(0.01)" font-size="13.5" font-weight="normal" fill="#151314" stroke="#151314" stroke-width="0.33">Hospitality,</text>
<text transform="translate(45.65,545.30) scale(0.775,1) skewX(0.01)" font-size="13.5" font-weight="normal" fill="#151314" stroke="#151314" stroke-width="0.33">Retail and</text>
<text transform="translate(45.65,559.00) scale(0.775,1) skewX(0.01)" font-size="13.5" font-weight="normal" fill="#151314" stroke="#151314" stroke-width="0.33">Service</text>
<text transform="translate(45.65,572.70) scale(0.775,1) skewX(0.01)" font-size="13.5" font-weight="normal" fill="#151314" stroke="#151314" stroke-width="0.33">Managers</text>
<rect x="90.25" y="501.50" width="79.3" height="89.50" fill="#E88A86"/>
<g transform="translate(129.90,516.60) scale(0.845,1) skewX(0.01)"><text font-size="14.6" font-weight="bold" fill="#151314" letter-spacing="0.95" stroke="#151314" stroke-width="0.25">23</text></g>
<text transform="translate(129.90,533.30) scale(0.775,1) skewX(0.01)" font-size="13.5" font-weight="normal" fill="#151314" stroke="#151314" stroke-width="0.33">Design,</text>
<text transform="translate(129.90,546.90) scale(0.775,1) skewX(0.01)" font-size="13.5" font-weight="normal" fill="#151314" stroke="#151314" stroke-width="0.33">Engineering,</text>
<text transform="translate(129.90,560.50) scale(0.775,1) skewX(0.01)" font-size="13.5" font-weight="normal" fill="#151314" stroke="#151314" stroke-width="0.33">Science and</text>
<text transform="translate(129.90,574.10) scale(0.775,1) skewX(0.01)" font-size="13.5" font-weight="normal" fill="#151314" stroke="#151314" stroke-width="0.33">Transport</text>
<text transform="translate(129.90,587.70) scale(0.775,1) skewX(0.01)" font-size="13.5" font-weight="normal" fill="#151314" stroke="#151314" stroke-width="0.33">Professionals</text>
<rect x="174.50" y="501.50" width="79.3" height="89.50" fill="#C77EAA"/>
<g transform="translate(214.15,516.60) scale(0.845,1) skewX(0.01)"><text font-size="14.6" font-weight="bold" fill="#151314" letter-spacing="0.95" stroke="#151314" stroke-width="0.25">39</text></g>
<text transform="translate(214.15,530.70) scale(0.775,1) skewX(0.01)" font-size="13.5" font-weight="normal" fill="#151314" stroke="#151314" stroke-width="0.33">Other</text>
<text transform="translate(214.15,544.40) scale(0.775,1) skewX(0.01)" font-size="13.5" font-weight="normal" fill="#151314" stroke="#151314" stroke-width="0.33">Technicians</text>
<text transform="translate(214.15,558.10) scale(0.775,1) skewX(0.01)" font-size="13.5" font-weight="normal" fill="#151314" stroke="#151314" stroke-width="0.33">and Trades</text>
<text transform="translate(214.15,571.80) scale(0.775,1) skewX(0.01)" font-size="13.5" font-weight="normal" fill="#151314" stroke="#151314" stroke-width="0.33">Workers</text>
<rect x="258.75" y="501.50" width="79.3" height="89.50" fill="#7C99C1"/>
<g transform="translate(298.40,516.60) scale(0.845,1) skewX(0.01)"><text font-size="14.6" font-weight="bold" fill="#151314" letter-spacing="0.95" stroke="#151314" stroke-width="0.25">45</text></g>
<text transform="translate(298.40,530.70) scale(0.775,1) skewX(0.01)" font-size="13.5" font-weight="normal" fill="#151314" stroke="#151314" stroke-width="0.33">Sports and</text>
<text transform="translate(298.40,544.40) scale(0.775,1) skewX(0.01)" font-size="13.5" font-weight="normal" fill="#151314" stroke="#151314" stroke-width="0.33">Personal</text>
<text transform="translate(298.40,558.10) scale(0.775,1) skewX(0.01)" font-size="13.5" font-weight="normal" fill="#151314" stroke="#151314" stroke-width="0.33">Service</text>
<text transform="translate(298.40,571.80) scale(0.775,1) skewX(0.01)" font-size="13.5" font-weight="normal" fill="#151314" stroke="#151314" stroke-width="0.33">Workers</text>
<rect x="343.00" y="501.50" width="79.3" height="89.50" fill="#7FC1D3"/>
<g transform="translate(382.65,516.60) scale(0.845,1) skewX(0.01)"><text font-size="14.6" font-weight="bold" fill="#151314" letter-spacing="0.95" stroke="#151314" stroke-width="0.25">59</text></g>
<text transform="translate(382.65,530.70) scale(0.775,1) skewX(0.01)" font-size="13.5" font-weight="normal" fill="#151314" stroke="#151314" stroke-width="0.33">Other</text>
<text transform="translate(382.65,544.40) scale(0.775,1) skewX(0.01)" font-size="13.5" font-weight="normal" fill="#151314" stroke="#151314" stroke-width="0.33">Clerical and</text>
<text transform="translate(382.65,558.10) scale(0.775,1) skewX(0.01)" font-size="13.5" font-weight="normal" fill="#151314" stroke="#151314" stroke-width="0.33">Administrative</text>
<text transform="translate(382.65,571.80) scale(0.775,1) skewX(0.01)" font-size="13.5" font-weight="normal" fill="#151314" stroke="#151314" stroke-width="0.33">Workers</text>
<rect x="427.25" y="501.50" width="79.3" height="89.50" fill="#B5B5B5"/>
<g transform="translate(466.90,516.60) scale(0.845,1) skewX(0.01)"><text font-size="14.6" font-weight="bold" fill="#151314" letter-spacing="0.95" stroke="#151314" stroke-width="0.25">62</text></g>
<text transform="translate(466.90,530.70) scale(0.775,1) skewX(0.01)" font-size="13.5" font-weight="normal" fill="#151314" stroke="#151314" stroke-width="0.33">Sales</text>
<text transform="translate(466.90,544.40) scale(0.775,1) skewX(0.01)" font-size="13.5" font-weight="normal" fill="#151314" stroke="#151314" stroke-width="0.33">Assistants and</text>
<text transform="translate(466.90,558.10) scale(0.775,1) skewX(0.01)" font-size="13.5" font-weight="normal" fill="#151314" stroke="#151314" stroke-width="0.33">Salespersons</text>
<rect x="511.50" y="501.50" width="79.3" height="89.50" fill="#A8C098"/>
<g transform="translate(551.15,516.60) scale(0.845,1) skewX(0.01)"><text font-size="14.6" font-weight="bold" fill="#151314" letter-spacing="0.95" stroke="#151314" stroke-width="0.25">73</text></g>
<text transform="translate(551.15,530.70) scale(0.775,1) skewX(0.01)" font-size="13.5" font-weight="normal" fill="#151314" stroke="#151314" stroke-width="0.33">Road and Rail</text>
<text transform="translate(551.15,544.40) scale(0.775,1) skewX(0.01)" font-size="13.5" font-weight="normal" fill="#151314" stroke="#151314" stroke-width="0.33">Drivers</text>
<rect x="595.75" y="501.50" width="79.3" height="89.50" fill="#7CBEBE"/>
<g transform="translate(635.40,516.60) scale(0.845,1) skewX(0.01)"><text font-size="14.6" font-weight="bold" fill="#151314" letter-spacing="0.95" stroke="#151314" stroke-width="0.25">84</text></g>
<text transform="translate(635.40,530.70) scale(0.775,1) skewX(0.01)" font-size="13.5" font-weight="normal" fill="#151314" stroke="#151314" stroke-width="0.33">Farm, Forestry</text>
<text transform="translate(635.40,544.40) scale(0.775,1) skewX(0.01)" font-size="13.5" font-weight="normal" fill="#151314" stroke="#151314" stroke-width="0.33">and Garden</text>
<text transform="translate(635.40,558.10) scale(0.775,1) skewX(0.01)" font-size="13.5" font-weight="normal" fill="#151314" stroke="#151314" stroke-width="0.33">workers</text>
<rect x="6.00" y="593.20" width="79.3" height="76.40" fill="#F1C49F"/>
<g transform="translate(45.65,609.20) scale(0.845,1) skewX(0.01)"><text font-size="14.6" font-weight="bold" fill="#151314" letter-spacing="0.95" stroke="#151314" stroke-width="0.25"> 4 </text><path d="M-10.20,0.00 L-10.20,-8.34 L-12.61,-6.84 L-12.61,-8.41 L-10.09,-10.04 L-8.19,-10.04 L-8.19,0.00 Z" fill="#151314" stroke="#151314" stroke-width="0.25"/><path d="M7.94,0.00 L7.94,-8.34 L5.53,-6.84 L5.53,-8.41 L8.05,-10.04 L9.95,-10.04 L9.95,0.00 Z" fill="#151314" stroke="#151314" stroke-width="0.25"/></g>
<text transform="translate(45.65,623.30) scale(0.775,1) skewX(0.01)" font-size="13.5" font-weight="normal" fill="#151314" stroke="#151314" stroke-width="0.33">Accommodation</text>
<text transform="translate(45.65,637.00) scale(0.775,1) skewX(0.01)" font-size="13.5" font-weight="normal" fill="#151314" stroke="#151314" stroke-width="0.33">and Hospitality</text>
<text transform="translate(45.65,650.70) scale(0.775,1) skewX(0.01)" font-size="13.5" font-weight="normal" fill="#151314" stroke="#151314" stroke-width="0.33">Managers</text>
<rect x="90.25" y="593.20" width="79.3" height="76.40" fill="#EDA5A4"/>
<g transform="translate(129.90,609.20) scale(0.845,1) skewX(0.01)"><text font-size="14.6" font-weight="bold" fill="#151314" letter-spacing="0.95" stroke="#151314" stroke-width="0.25">23 </text><path d="M7.94,0.00 L7.94,-8.34 L5.53,-6.84 L5.53,-8.41 L8.05,-10.04 L9.95,-10.04 L9.95,0.00 Z" fill="#151314" stroke="#151314" stroke-width="0.25"/></g>
<text transform="translate(129.90,625.10) scale(0.775,1) skewX(0.01)" font-size="13.5" font-weight="normal" fill="#151314" stroke="#151314" stroke-width="0.33">Air and Marine</text>
<text transform="translate(129.90,638.85) scale(0.775,1) skewX(0.01)" font-size="13.5" font-weight="normal" fill="#151314" stroke="#151314" stroke-width="0.33">Transport</text>
<text transform="translate(129.90,652.60) scale(0.775,1) skewX(0.01)" font-size="13.5" font-weight="normal" fill="#151314" stroke="#151314" stroke-width="0.33">Professionals</text>
<rect x="174.50" y="593.20" width="79.3" height="76.40" fill="#D59BBE"/>
<g transform="translate(214.15,609.20) scale(0.845,1) skewX(0.01)"><text font-size="14.6" font-weight="bold" fill="#151314" letter-spacing="0.95" stroke="#151314" stroke-width="0.25">399</text></g>
<text transform="translate(214.15,625.10) scale(0.775,1) skewX(0.01)" font-size="13.5" font-weight="normal" fill="#151314" stroke="#151314" stroke-width="0.33">Miscellaneous</text>
<text transform="translate(214.15,639.00) scale(0.775,1) skewX(0.01)" font-size="13.5" font-weight="normal" fill="#151314" stroke="#151314" stroke-width="0.33">Technicians</text>
<text transform="translate(214.15,652.90) scale(0.775,1) skewX(0.01)" font-size="13.5" font-weight="normal" fill="#151314" stroke="#151314" stroke-width="0.33">and Trades</text>
<text transform="translate(214.15,666.80) scale(0.775,1) skewX(0.01)" font-size="13.5" font-weight="normal" fill="#151314" stroke="#151314" stroke-width="0.33">Workers</text>
<rect x="258.75" y="593.20" width="79.3" height="76.40" fill="#9CB1D1"/>
<g transform="translate(298.40,609.20) scale(0.845,1) skewX(0.01)"><text font-size="14.6" font-weight="bold" fill="#151314" letter-spacing="0.95" stroke="#151314" stroke-width="0.25">452</text></g>
<text transform="translate(298.40,623.30) scale(0.775,1) skewX(0.01)" font-size="13.5" font-weight="normal" fill="#151314" stroke="#151314" stroke-width="0.33">Sports and</text>
<text transform="translate(298.40,637.00) scale(0.775,1) skewX(0.01)" font-size="13.5" font-weight="normal" fill="#151314" stroke="#151314" stroke-width="0.33">Fitness</text>
<text transform="translate(298.40,650.70) scale(0.775,1) skewX(0.01)" font-size="13.5" font-weight="normal" fill="#151314" stroke="#151314" stroke-width="0.33">Workers</text>
<rect x="343.00" y="593.20" width="79.3" height="76.40" fill="#9AD0DE"/>
<g transform="translate(382.65,609.20) scale(0.845,1) skewX(0.01)"><text font-size="14.6" font-weight="bold" fill="#151314" letter-spacing="0.95" stroke="#151314" stroke-width="0.25">599</text></g>
<text transform="translate(382.65,623.30) scale(0.775,1) skewX(0.01)" font-size="13.5" font-weight="normal" fill="#151314" stroke="#151314" stroke-width="0.33">Miscellaneous</text>
<text transform="translate(382.65,637.00) scale(0.775,1) skewX(0.01)" font-size="13.5" font-weight="normal" fill="#151314" stroke="#151314" stroke-width="0.33">Clerical and</text>
<text transform="translate(382.65,650.70) scale(0.775,1) skewX(0.01)" font-size="13.5" font-weight="normal" fill="#151314" stroke="#151314" stroke-width="0.33">Administrative</text>
<text transform="translate(382.65,664.40) scale(0.775,1) skewX(0.01)" font-size="13.5" font-weight="normal" fill="#151314" stroke="#151314" stroke-width="0.33">Workers</text>
<rect x="427.25" y="593.20" width="79.3" height="76.40" fill="#C6C6C6"/>
<g transform="translate(466.90,609.20) scale(0.845,1) skewX(0.01)"><text font-size="14.6" font-weight="bold" fill="#151314" letter-spacing="0.95" stroke="#151314" stroke-width="0.25">62 </text><path d="M7.94,0.00 L7.94,-8.34 L5.53,-6.84 L5.53,-8.41 L8.05,-10.04 L9.95,-10.04 L9.95,0.00 Z" fill="#151314" stroke="#151314" stroke-width="0.25"/></g>
<text transform="translate(466.90,623.30) scale(0.775,1) skewX(0.01)" font-size="13.5" font-weight="normal" fill="#151314" stroke="#151314" stroke-width="0.33">Sales</text>
<text transform="translate(466.90,637.00) scale(0.775,1) skewX(0.01)" font-size="13.5" font-weight="normal" fill="#151314" stroke="#151314" stroke-width="0.33">Assistants and</text>
<text transform="translate(466.90,650.70) scale(0.775,1) skewX(0.01)" font-size="13.5" font-weight="normal" fill="#151314" stroke="#151314" stroke-width="0.33">Salespersons</text>
<rect x="511.50" y="593.20" width="79.3" height="76.40" fill="#BBCEAC"/>
<g transform="translate(551.15,609.20) scale(0.845,1) skewX(0.01)"><text font-size="14.6" font-weight="bold" fill="#151314" letter-spacing="0.95" stroke="#151314" stroke-width="0.25">733</text></g>
<text transform="translate(551.15,623.30) scale(0.775,1) skewX(0.01)" font-size="13.5" font-weight="normal" fill="#151314" stroke="#151314" stroke-width="0.33">Truck Drivers</text>
<rect x="595.75" y="593.20" width="79.3" height="76.40" fill="#99CCCC"/>
<g transform="translate(635.40,609.20) scale(0.845,1) skewX(0.01)"><text font-size="14.6" font-weight="bold" fill="#151314" letter-spacing="0.95" stroke="#151314" stroke-width="0.25">84 </text><path d="M7.94,0.00 L7.94,-8.34 L5.53,-6.84 L5.53,-8.41 L8.05,-10.04 L9.95,-10.04 L9.95,0.00 Z" fill="#151314" stroke="#151314" stroke-width="0.25"/></g>
<text transform="translate(635.40,623.30) scale(0.775,1) skewX(0.01)" font-size="13.5" font-weight="normal" fill="#151314" stroke="#151314" stroke-width="0.33">Farm, Forestry</text>
<text transform="translate(635.40,637.00) scale(0.775,1) skewX(0.01)" font-size="13.5" font-weight="normal" fill="#151314" stroke="#151314" stroke-width="0.33">and Garden</text>
<text transform="translate(635.40,650.70) scale(0.775,1) skewX(0.01)" font-size="13.5" font-weight="normal" fill="#151314" stroke="#151314" stroke-width="0.33">Workers</text>
<rect x="6.00" y="671.60" width="79.3" height="60.50" fill="#F3D2B8"/>
<g transform="translate(45.65,686.70) scale(0.845,1) skewX(0.01)"><text font-size="14.6" font-weight="bold" fill="#151314" letter-spacing="0.95" stroke="#151314" stroke-width="0.25"> 4 3</text><path d="M-14.73,0.00 L-14.73,-8.34 L-17.14,-6.84 L-17.14,-8.41 L-14.63,-10.04 L-12.73,-10.04 L-12.73,0.00 Z" fill="#151314" stroke="#151314" stroke-width="0.25"/><path d="M3.41,0.00 L3.41,-8.34 L1.00,-6.84 L1.00,-8.41 L3.51,-10.04 L5.41,-10.04 L5.41,0.00 Z" fill="#151314" stroke="#151314" stroke-width="0.25"/></g>
<text transform="translate(45.65,701.40) scale(0.775,1) skewX(0.01)" font-size="13.5" font-weight="normal" fill="#151314" stroke="#151314" stroke-width="0.33">Hotel and Motel</text>
<text transform="translate(45.65,715.10) scale(0.775,1) skewX(0.01)" font-size="13.5" font-weight="normal" fill="#151314" stroke="#151314" stroke-width="0.33">Managers</text>
<rect x="90.25" y="671.60" width="79.3" height="60.50" fill="#F2BDBD"/>
<g transform="translate(129.90,686.70) scale(0.845,1) skewX(0.01)"><text font-size="14.6" font-weight="bold" fill="#151314" letter-spacing="0.95" stroke="#151314" stroke-width="0.25">23  </text><path d="M3.41,0.00 L3.41,-8.34 L1.00,-6.84 L1.00,-8.41 L3.51,-10.04 L5.41,-10.04 L5.41,0.00 Z" fill="#151314" stroke="#151314" stroke-width="0.25"/><path d="M12.48,0.00 L12.48,-8.34 L10.07,-6.84 L10.07,-8.41 L12.58,-10.04 L14.48,-10.04 L14.48,0.00 Z" fill="#151314" stroke="#151314" stroke-width="0.25"/></g>
<text transform="translate(129.90,703.20) scale(0.775,1) skewX(0.01)" font-size="13.5" font-weight="normal" fill="#151314" stroke="#151314" stroke-width="0.33">Air Transport</text>
<text transform="translate(129.90,717.10) scale(0.775,1) skewX(0.01)" font-size="13.5" font-weight="normal" fill="#151314" stroke="#151314" stroke-width="0.33">Professionals</text>
<rect x="174.50" y="671.60" width="79.3" height="60.50" fill="#E1B8D1"/>
<g transform="translate(214.15,686.70) scale(0.845,1) skewX(0.01)"><text font-size="14.6" font-weight="bold" fill="#151314" letter-spacing="0.95" stroke="#151314" stroke-width="0.25">399 </text><path d="M12.48,0.00 L12.48,-8.34 L10.07,-6.84 L10.07,-8.41 L12.58,-10.04 L14.48,-10.04 L14.48,0.00 Z" fill="#151314" stroke="#151314" stroke-width="0.25"/></g>
<text transform="translate(214.15,701.40) scale(0.775,1) skewX(0.01)" font-size="13.5" font-weight="normal" fill="#151314" stroke="#151314" stroke-width="0.33">Boat</text>
<text transform="translate(214.15,715.10) scale(0.775,1) skewX(0.01)" font-size="13.5" font-weight="normal" fill="#151314" stroke="#151314" stroke-width="0.33">Builders and</text>
<text transform="translate(214.15,728.80) scale(0.775,1) skewX(0.01)" font-size="13.5" font-weight="normal" fill="#151314" stroke="#151314" stroke-width="0.33">Shipwrights</text>
<rect x="258.75" y="671.60" width="79.3" height="60.50" fill="#B7C7DF"/>
<g transform="translate(298.40,686.70) scale(0.845,1) skewX(0.01)"><text font-size="14.6" font-weight="bold" fill="#151314" letter-spacing="0.95" stroke="#151314" stroke-width="0.25">4522</text></g>
<text transform="translate(298.40,701.40) scale(0.775,1) skewX(0.01)" font-size="13.5" font-weight="normal" fill="#151314" stroke="#151314" stroke-width="0.33">Outdoor</text>
<text transform="translate(298.40,715.10) scale(0.775,1) skewX(0.01)" font-size="13.5" font-weight="normal" fill="#151314" stroke="#151314" stroke-width="0.33">Adventure</text>
<text transform="translate(298.40,728.80) scale(0.775,1) skewX(0.01)" font-size="13.5" font-weight="normal" fill="#151314" stroke="#151314" stroke-width="0.33">Guides</text>
<rect x="343.00" y="671.60" width="79.3" height="60.50" fill="#B6DEE9"/>
<g transform="translate(382.65,686.70) scale(0.845,1) skewX(0.01)"><text font-size="14.6" font-weight="bold" fill="#151314" letter-spacing="0.95" stroke="#151314" stroke-width="0.25">5995</text></g>
<text transform="translate(382.65,701.40) scale(0.775,1) skewX(0.01)" font-size="13.5" font-weight="normal" fill="#151314" stroke="#151314" stroke-width="0.33">Inspectors and</text>
<text transform="translate(382.65,715.10) scale(0.775,1) skewX(0.01)" font-size="13.5" font-weight="normal" fill="#151314" stroke="#151314" stroke-width="0.33">Regulatory</text>
<text transform="translate(382.65,728.80) scale(0.775,1) skewX(0.01)" font-size="13.5" font-weight="normal" fill="#151314" stroke="#151314" stroke-width="0.33">Officers</text>
<rect x="427.25" y="671.60" width="79.3" height="60.50" fill="#D5D5D5"/>
<g transform="translate(466.90,686.70) scale(0.845,1) skewX(0.01)"><text font-size="14.6" font-weight="bold" fill="#151314" letter-spacing="0.95" stroke="#151314" stroke-width="0.25">62 4</text><path d="M3.41,0.00 L3.41,-8.34 L1.00,-6.84 L1.00,-8.41 L3.51,-10.04 L5.41,-10.04 L5.41,0.00 Z" fill="#151314" stroke="#151314" stroke-width="0.25"/></g>
<text transform="translate(466.90,701.40) scale(0.775,1) skewX(0.01)" font-size="13.5" font-weight="normal" fill="#151314" stroke="#151314" stroke-width="0.33">Pharmacy</text>
<text transform="translate(466.90,715.10) scale(0.775,1) skewX(0.01)" font-size="13.5" font-weight="normal" fill="#151314" stroke="#151314" stroke-width="0.33">Sales</text>
<text transform="translate(466.90,728.80) scale(0.775,1) skewX(0.01)" font-size="13.5" font-weight="normal" fill="#151314" stroke="#151314" stroke-width="0.33">Assistants</text>
<rect x="511.50" y="671.60" width="79.3" height="60.50" fill="#CDDCC2"/>
<g transform="translate(551.15,686.70) scale(0.845,1) skewX(0.01)"><text font-size="14.6" font-weight="bold" fill="#151314" letter-spacing="0.95" stroke="#151314" stroke-width="0.25">733 </text><path d="M12.48,0.00 L12.48,-8.34 L10.07,-6.84 L10.07,-8.41 L12.58,-10.04 L14.48,-10.04 L14.48,0.00 Z" fill="#151314" stroke="#151314" stroke-width="0.25"/></g>
<text transform="translate(551.15,701.40) scale(0.775,1) skewX(0.01)" font-size="13.5" font-weight="normal" fill="#151314" stroke="#151314" stroke-width="0.33">Truck Drivers</text>
<rect x="595.75" y="671.60" width="79.3" height="60.50" fill="#B4DADB"/>
<g transform="translate(635.40,686.70) scale(0.845,1) skewX(0.01)"><text font-size="14.6" font-weight="bold" fill="#151314" letter-spacing="0.95" stroke="#151314" stroke-width="0.25">84 5</text><path d="M3.41,0.00 L3.41,-8.34 L1.00,-6.84 L1.00,-8.41 L3.51,-10.04 L5.41,-10.04 L5.41,0.00 Z" fill="#151314" stroke="#151314" stroke-width="0.25"/></g>
<text transform="translate(635.40,701.40) scale(0.775,1) skewX(0.01)" font-size="13.5" font-weight="normal" fill="#151314" stroke="#151314" stroke-width="0.33">Livestock Farm</text>
<text transform="translate(635.40,715.10) scale(0.775,1) skewX(0.01)" font-size="13.5" font-weight="normal" fill="#151314" stroke="#151314" stroke-width="0.33">Workers</text>
<rect x="6.00" y="734.30" width="79.3" height="60.70" fill="#F7E0CF"/>
<g transform="translate(45.65,749.90) scale(0.845,1) skewX(0.01)"><text font-size="14.6" font-weight="bold" fill="#151314" letter-spacing="0.95" stroke="#151314" stroke-width="0.25"> 4 3  </text><path d="M-23.80,0.00 L-23.80,-8.34 L-26.21,-6.84 L-26.21,-8.41 L-23.69,-10.04 L-21.80,-10.04 L-21.80,0.00 Z" fill="#151314" stroke="#151314" stroke-width="0.25"/><path d="M-5.66,0.00 L-5.66,-8.34 L-8.07,-6.84 L-8.07,-8.41 L-5.56,-10.04 L-3.66,-10.04 L-3.66,0.00 Z" fill="#151314" stroke="#151314" stroke-width="0.25"/><path d="M12.48,0.00 L12.48,-8.34 L10.07,-6.84 L10.07,-8.41 L12.58,-10.04 L14.48,-10.04 L14.48,0.00 Z" fill="#151314" stroke="#151314" stroke-width="0.25"/><path d="M21.55,0.00 L21.55,-8.34 L19.14,-6.84 L19.14,-8.41 L21.65,-10.04 L23.55,-10.04 L23.55,0.00 Z" fill="#151314" stroke="#151314" stroke-width="0.25"/></g>
<text transform="translate(45.65,764.00) scale(0.775,1) skewX(0.01)" font-size="13.5" font-weight="normal" fill="#151314" stroke="#151314" stroke-width="0.33">Hotel or Motel</text>
<text transform="translate(45.65,777.70) scale(0.775,1) skewX(0.01)" font-size="13.5" font-weight="normal" fill="#151314" stroke="#151314" stroke-width="0.33">Manager</text>
<rect x="90.25" y="734.30" width="79.3" height="60.70" fill="#F7D8D8"/>
<g transform="translate(129.90,749.90) scale(0.845,1) skewX(0.01)"><text font-size="14.6" font-weight="bold" fill="#151314" letter-spacing="0.95" stroke="#151314" stroke-width="0.25">23    </text><path d="M-5.66,0.00 L-5.66,-8.34 L-8.07,-6.84 L-8.07,-8.41 L-5.56,-10.04 L-3.66,-10.04 L-3.66,0.00 Z" fill="#151314" stroke="#151314" stroke-width="0.25"/><path d="M3.41,0.00 L3.41,-8.34 L1.00,-6.84 L1.00,-8.41 L3.51,-10.04 L5.41,-10.04 L5.41,0.00 Z" fill="#151314" stroke="#151314" stroke-width="0.25"/><path d="M12.48,0.00 L12.48,-8.34 L10.07,-6.84 L10.07,-8.41 L12.58,-10.04 L14.48,-10.04 L14.48,0.00 Z" fill="#151314" stroke="#151314" stroke-width="0.25"/><path d="M21.55,0.00 L21.55,-8.34 L19.14,-6.84 L19.14,-8.41 L21.65,-10.04 L23.55,-10.04 L23.55,0.00 Z" fill="#151314" stroke="#151314" stroke-width="0.25"/></g>
<text transform="translate(129.90,764.00) scale(0.775,1) skewX(0.01)" font-size="13.5" font-weight="normal" fill="#151314" stroke="#151314" stroke-width="0.33">Aeroplane Pilot</text>
<rect x="174.50" y="734.30" width="79.3" height="60.70" fill="#EDD5E3"/>
<g transform="translate(214.15,749.90) scale(0.845,1) skewX(0.01)"><text font-size="14.6" font-weight="bold" fill="#151314" letter-spacing="0.95" stroke="#151314" stroke-width="0.25">399   </text><path d="M3.41,0.00 L3.41,-8.34 L1.00,-6.84 L1.00,-8.41 L3.51,-10.04 L5.41,-10.04 L5.41,0.00 Z" fill="#151314" stroke="#151314" stroke-width="0.25"/><path d="M12.48,0.00 L12.48,-8.34 L10.07,-6.84 L10.07,-8.41 L12.58,-10.04 L14.48,-10.04 L14.48,0.00 Z" fill="#151314" stroke="#151314" stroke-width="0.25"/><path d="M21.55,0.00 L21.55,-8.34 L19.14,-6.84 L19.14,-8.41 L21.65,-10.04 L23.55,-10.04 L23.55,0.00 Z" fill="#151314" stroke="#151314" stroke-width="0.25"/></g>
<text transform="translate(214.15,764.00) scale(0.775,1) skewX(0.01)" font-size="13.5" font-weight="normal" fill="#151314" stroke="#151314" stroke-width="0.33">Boat Builder</text>
<text transform="translate(214.15,777.70) scale(0.775,1) skewX(0.01)" font-size="13.5" font-weight="normal" fill="#151314" stroke="#151314" stroke-width="0.33">and Repairer</text>
<rect x="258.75" y="734.30" width="79.3" height="60.70" fill="#D2DDEC"/>
<g transform="translate(298.40,749.90) scale(0.845,1) skewX(0.01)"><text font-size="14.6" font-weight="bold" fill="#151314" letter-spacing="0.95" stroke="#151314" stroke-width="0.25">4522 6</text><path d="M12.48,0.00 L12.48,-8.34 L10.07,-6.84 L10.07,-8.41 L12.58,-10.04 L14.48,-10.04 L14.48,0.00 Z" fill="#151314" stroke="#151314" stroke-width="0.25"/></g>
<text transform="translate(298.40,764.00) scale(0.775,1) skewX(0.01)" font-size="13.5" font-weight="normal" fill="#151314" stroke="#151314" stroke-width="0.33">Trekking Guide</text>
<rect x="343.00" y="734.30" width="79.3" height="60.70" fill="#D1EBF2"/>
<g transform="translate(382.65,749.90) scale(0.845,1) skewX(0.01)"><text font-size="14.6" font-weight="bold" fill="#151314" letter-spacing="0.95" stroke="#151314" stroke-width="0.25">5995 2</text><path d="M12.48,0.00 L12.48,-8.34 L10.07,-6.84 L10.07,-8.41 L12.58,-10.04 L14.48,-10.04 L14.48,0.00 Z" fill="#151314" stroke="#151314" stroke-width="0.25"/></g>
<text transform="translate(382.65,764.00) scale(0.775,1) skewX(0.01)" font-size="13.5" font-weight="normal" fill="#151314" stroke="#151314" stroke-width="0.33">Immigration</text>
<text transform="translate(382.65,777.70) scale(0.775,1) skewX(0.01)" font-size="13.5" font-weight="normal" fill="#151314" stroke="#151314" stroke-width="0.33">Officer</text>
<rect x="427.25" y="734.30" width="79.3" height="60.70" fill="#E4E4E4"/>
<g transform="translate(466.90,749.90) scale(0.845,1) skewX(0.01)"><text font-size="14.6" font-weight="bold" fill="#151314" letter-spacing="0.95" stroke="#151314" stroke-width="0.25">62 4  </text><path d="M-5.66,0.00 L-5.66,-8.34 L-8.07,-6.84 L-8.07,-8.41 L-5.56,-10.04 L-3.66,-10.04 L-3.66,0.00 Z" fill="#151314" stroke="#151314" stroke-width="0.25"/><path d="M12.48,0.00 L12.48,-8.34 L10.07,-6.84 L10.07,-8.41 L12.58,-10.04 L14.48,-10.04 L14.48,0.00 Z" fill="#151314" stroke="#151314" stroke-width="0.25"/><path d="M21.55,0.00 L21.55,-8.34 L19.14,-6.84 L19.14,-8.41 L21.65,-10.04 L23.55,-10.04 L23.55,0.00 Z" fill="#151314" stroke="#151314" stroke-width="0.25"/></g>
<text transform="translate(466.90,764.00) scale(0.775,1) skewX(0.01)" font-size="13.5" font-weight="normal" fill="#151314" stroke="#151314" stroke-width="0.33">Pharmacy</text>
<text transform="translate(466.90,777.70) scale(0.775,1) skewX(0.01)" font-size="13.5" font-weight="normal" fill="#151314" stroke="#151314" stroke-width="0.33">Sales</text>
<text transform="translate(466.90,791.40) scale(0.775,1) skewX(0.01)" font-size="13.5" font-weight="normal" fill="#151314" stroke="#151314" stroke-width="0.33">Assistants</text>
<rect x="511.50" y="734.30" width="79.3" height="60.70" fill="#DFE8D7"/>
<g transform="translate(551.15,749.90) scale(0.845,1) skewX(0.01)"><text font-size="14.6" font-weight="bold" fill="#151314" letter-spacing="0.95" stroke="#151314" stroke-width="0.25">733  5</text><path d="M3.41,0.00 L3.41,-8.34 L1.00,-6.84 L1.00,-8.41 L3.51,-10.04 L5.41,-10.04 L5.41,0.00 Z" fill="#151314" stroke="#151314" stroke-width="0.25"/><path d="M12.48,0.00 L12.48,-8.34 L10.07,-6.84 L10.07,-8.41 L12.58,-10.04 L14.48,-10.04 L14.48,0.00 Z" fill="#151314" stroke="#151314" stroke-width="0.25"/></g>
<text transform="translate(551.15,764.00) scale(0.775,1) skewX(0.01)" font-size="13.5" font-weight="normal" fill="#151314" stroke="#151314" stroke-width="0.33">Tow Truck</text>
<text transform="translate(551.15,777.70) scale(0.775,1) skewX(0.01)" font-size="13.5" font-weight="normal" fill="#151314" stroke="#151314" stroke-width="0.33">Driver</text>
<rect x="595.75" y="734.30" width="79.3" height="60.70" fill="#D0E8E8"/>
<g transform="translate(635.40,749.90) scale(0.845,1) skewX(0.01)"><text font-size="14.6" font-weight="bold" fill="#151314" letter-spacing="0.95" stroke="#151314" stroke-width="0.25">84 5 2</text><path d="M-5.66,0.00 L-5.66,-8.34 L-8.07,-6.84 L-8.07,-8.41 L-5.56,-10.04 L-3.66,-10.04 L-3.66,0.00 Z" fill="#151314" stroke="#151314" stroke-width="0.25"/><path d="M12.48,0.00 L12.48,-8.34 L10.07,-6.84 L10.07,-8.41 L12.58,-10.04 L14.48,-10.04 L14.48,0.00 Z" fill="#151314" stroke="#151314" stroke-width="0.25"/></g>
<text transform="translate(635.40,764.00) scale(0.775,1) skewX(0.01)" font-size="13.5" font-weight="normal" fill="#151314" stroke="#151314" stroke-width="0.33">Dairy Cattle</text>
<text transform="translate(635.40,777.70) scale(0.775,1) skewX(0.01)" font-size="13.5" font-weight="normal" fill="#151314" stroke="#151314" stroke-width="0.33">Farm Worker</text>
<rect x="0" y="0" width="680" height="1" fill="#000"/>
<rect x="0" y="0" width="1" height="800" fill="#000"/>
<rect x="0" y="798" width="680" height="2" fill="#000"/>
</svg></body></html>
